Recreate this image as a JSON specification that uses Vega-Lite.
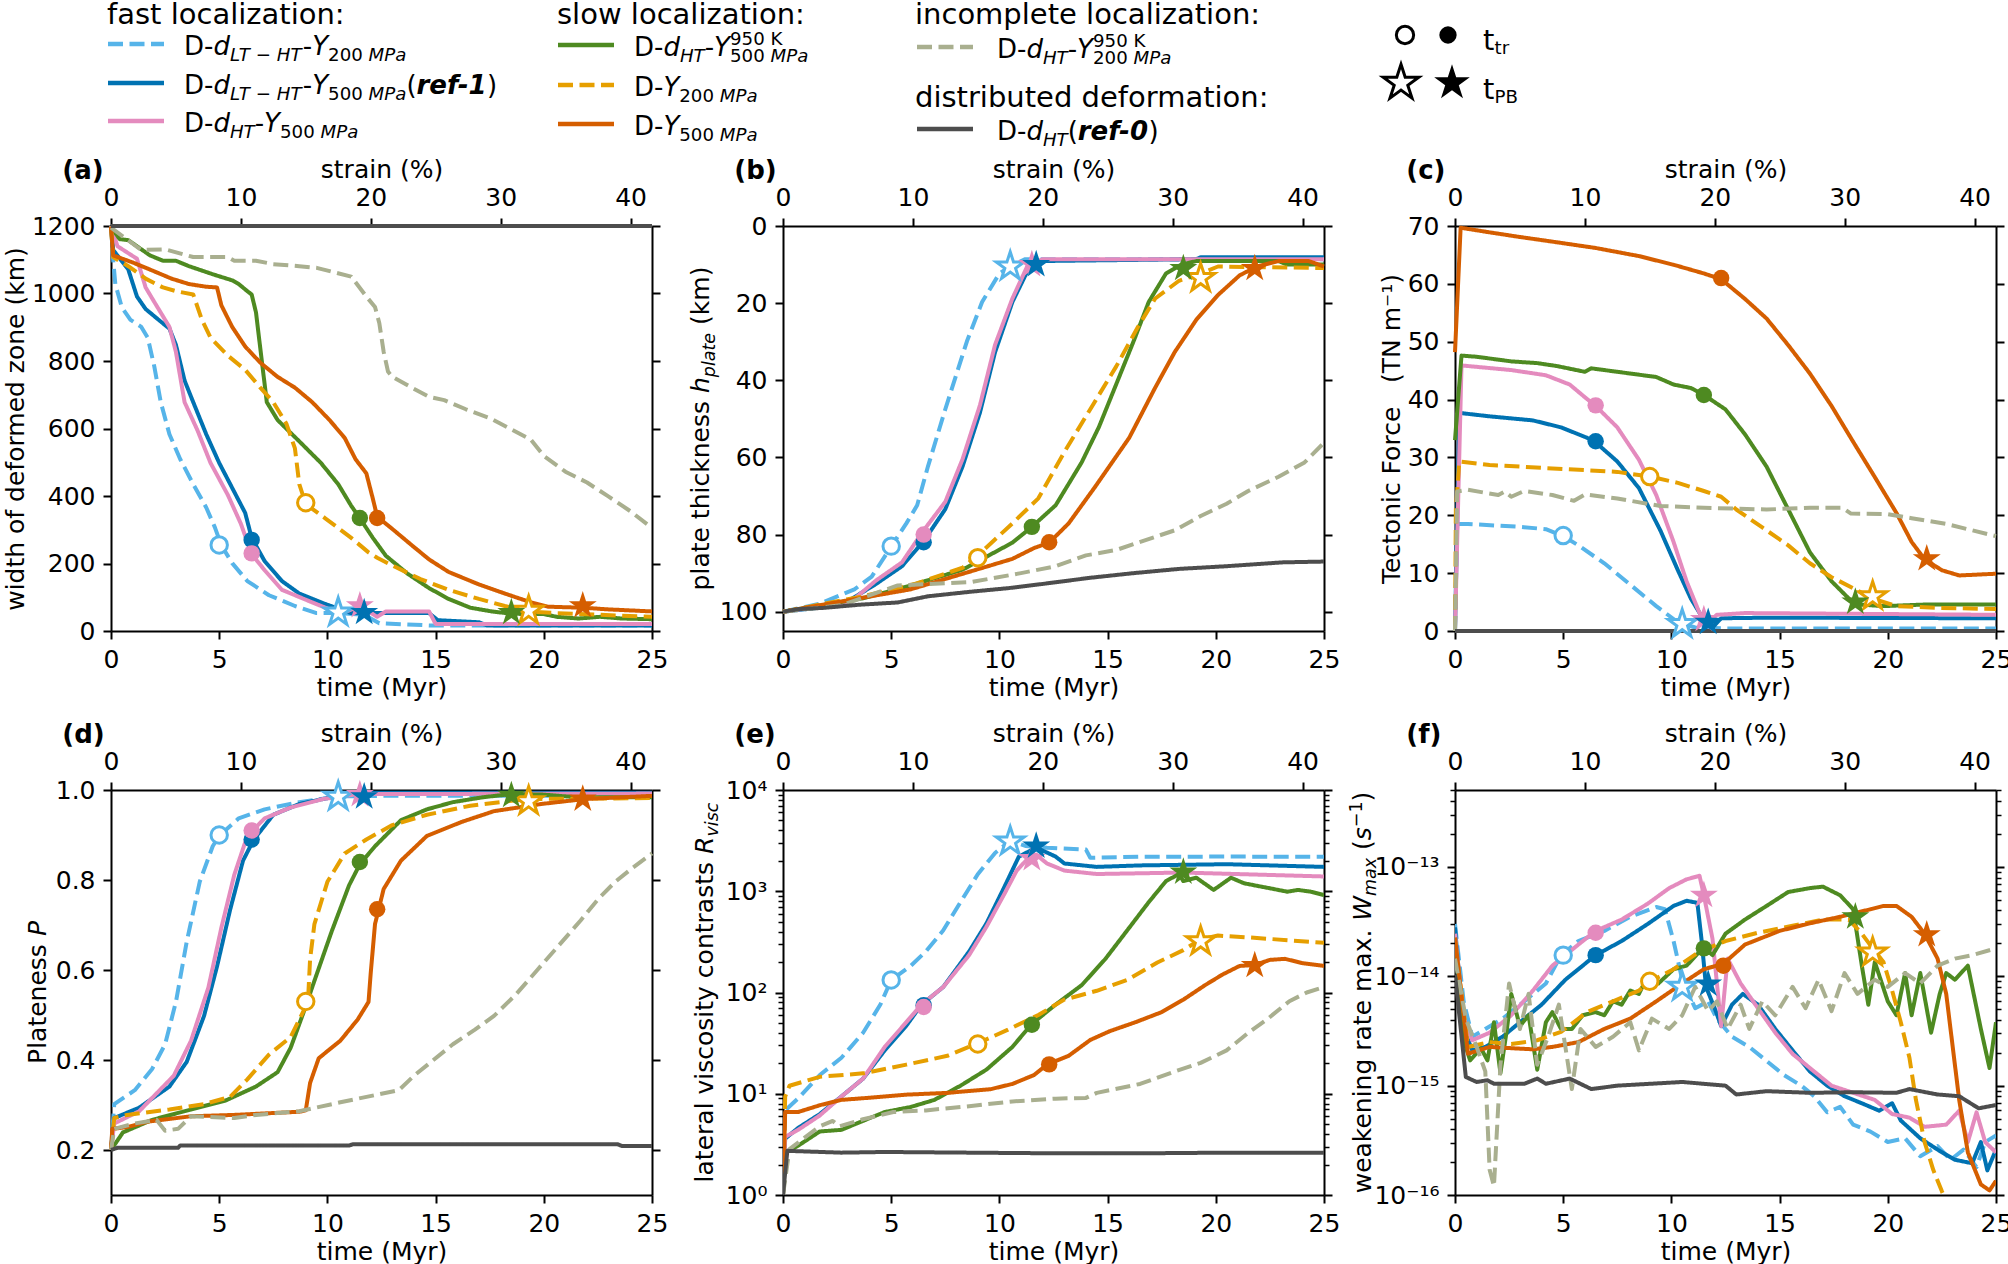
{
  "$schema": "https://vega.github.io/schema/vega-lite/v6.json",
  "padding": {"left": 3, "top": 1, "right": 0, "bottom": 0},
  "background": "white",
  "config": {
    "font": "DejaVu Sans",
    "view": {"stroke": null},
    "axis": {
      "domainColor": "black", "domainWidth": 2, "tickColor": "black", "tickWidth": 2, "tickSize": 8,
      "labelFont": "DejaVu Sans", "labelFontSize": 25, "labelColor": "black", "labelPadding": 8,
      "labelFlush": false, "labelOverlap": false, "grid": false,
      "titleFont": "DejaVu Sans", "titleFontSize": 25, "titleFontWeight": "normal", "titleColor": "black", "titlePadding": 3
    }
  },
  "datasets": {
    "lgl": [
      {"s": "lb", "x": 107, "x2": 163, "y": 42},
      {"s": "db", "x": 107, "x2": 163, "y": 81},
      {"s": "pk", "x": 107, "x2": 163, "y": 119},
      {"s": "gr", "x": 557, "x2": 613, "y": 43},
      {"s": "or", "x": 557, "x2": 613, "y": 83},
      {"s": "rd", "x": 557, "x2": 613, "y": 122},
      {"s": "gy", "x": 916, "x2": 972, "y": 45},
      {"s": "dk", "x": 916, "x2": 972, "y": 127}
    ],
    "lgt": [
      {"k": "h", "t": "fast localization:", "x": 106, "y": 22},
      {"k": "h", "t": "slow localization:", "x": 556, "y": 22},
      {"k": "h", "t": "incomplete localization:", "x": 914, "y": 22},
      {"k": "h", "t": "distributed deformation:", "x": 914, "y": 105},
      {"k": "n", "t": "D-", "x": 183, "y": 52.5},
      {"k": "i", "t": "d", "x": 212.4, "y": 52.5},
      {"k": "si", "t": "LT − HT", "x": 228.9, "y": 58.5},
      {"k": "n", "t": "-", "x": 301.8, "y": 52.5},
      {"k": "i", "t": "Y", "x": 311.2, "y": 52.5},
      {"k": "s", "t": "200", "x": 327.1, "y": 58.5},
      {"k": "si", "t": "MPa", "x": 367.6, "y": 58.5},
      {"k": "n", "t": "D-", "x": 183, "y": 91.5},
      {"k": "i", "t": "d", "x": 212.4, "y": 91.5},
      {"k": "si", "t": "LT − HT", "x": 228.9, "y": 97.5},
      {"k": "n", "t": "-", "x": 301.8, "y": 91.5},
      {"k": "i", "t": "Y", "x": 311.2, "y": 91.5},
      {"k": "s", "t": "500", "x": 327.1, "y": 97.5},
      {"k": "si", "t": "MPa", "x": 367.6, "y": 97.5},
      {"k": "n", "t": "(", "x": 405.4, "y": 91.5},
      {"k": "bi", "t": "ref-1", "x": 415.5, "y": 91.5},
      {"k": "n", "t": ")", "x": 486.1, "y": 91.5},
      {"k": "n", "t": "D-", "x": 183, "y": 129.5},
      {"k": "i", "t": "d", "x": 212.4, "y": 129.5},
      {"k": "si", "t": "HT", "x": 228.9, "y": 135.5},
      {"k": "n", "t": "-", "x": 253.7, "y": 129.5},
      {"k": "i", "t": "Y", "x": 263.1, "y": 129.5},
      {"k": "s", "t": "500", "x": 279, "y": 135.5},
      {"k": "si", "t": "MPa", "x": 319.5, "y": 135.5},
      {"k": "n", "t": "D-", "x": 633, "y": 53.5},
      {"k": "i", "t": "d", "x": 662.4, "y": 53.5},
      {"k": "si", "t": "HT", "x": 678.9, "y": 60},
      {"k": "n", "t": "-", "x": 703.7, "y": 53.5},
      {"k": "i", "t": "Y", "x": 713.1, "y": 53.5},
      {"k": "s", "t": "950 K", "x": 729, "y": 42.5},
      {"k": "s", "t": "500", "x": 729, "y": 60},
      {"k": "si", "t": "MPa", "x": 769.5, "y": 60},
      {"k": "n", "t": "D-", "x": 633, "y": 93.5},
      {"k": "i", "t": "Y", "x": 662.4, "y": 93.5},
      {"k": "s", "t": "200", "x": 678.3, "y": 99.5},
      {"k": "si", "t": "MPa", "x": 718.8, "y": 99.5},
      {"k": "n", "t": "D-", "x": 633, "y": 132.5},
      {"k": "i", "t": "Y", "x": 662.4, "y": 132.5},
      {"k": "s", "t": "500", "x": 678.3, "y": 138.5},
      {"k": "si", "t": "MPa", "x": 718.8, "y": 138.5},
      {"k": "n", "t": "D-", "x": 996, "y": 55.5},
      {"k": "i", "t": "d", "x": 1025.4, "y": 55.5},
      {"k": "si", "t": "HT", "x": 1041.9, "y": 61.5},
      {"k": "n", "t": "-", "x": 1066.7, "y": 55.5},
      {"k": "i", "t": "Y", "x": 1076.1, "y": 55.5},
      {"k": "s", "t": "950 K", "x": 1092, "y": 44.5},
      {"k": "s", "t": "200", "x": 1092, "y": 62},
      {"k": "si", "t": "MPa", "x": 1132.5, "y": 62},
      {"k": "n", "t": "D-", "x": 996, "y": 137.5},
      {"k": "i", "t": "d", "x": 1025.4, "y": 137.5},
      {"k": "si", "t": "HT", "x": 1041.9, "y": 143.5},
      {"k": "n", "t": "(", "x": 1066.7, "y": 137.5},
      {"k": "bi", "t": "ref-0", "x": 1076.8, "y": 137.5},
      {"k": "n", "t": ")", "x": 1147.4, "y": 137.5},
      {"k": "h", "t": "t", "x": 1482, "y": 48},
      {"k": "s", "t": "tr", "x": 1493.5, "y": 52},
      {"k": "h", "t": "t", "x": 1482, "y": 97},
      {"k": "s", "t": "PB", "x": 1493.5, "y": 101}
    ],
    "lgm": [
      {"k": "tr", "f": "o", "x": 1404, "y": 33},
      {"k": "tr", "f": "f", "x": 1447, "y": 33},
      {"k": "pb", "f": "o", "x": 1400, "y": 81},
      {"k": "pb", "f": "f", "x": 1451, "y": 81}
    ],
    "ft": [
      {"p": "a", "k": "L", "t": "(a)", "x": -0.09, "y": 1.135},
      {"p": "b", "k": "L", "t": "(b)", "x": -0.09, "y": 1.135},
      {"p": "c", "k": "L", "t": "(c)", "x": -0.09, "y": 1.135},
      {"p": "d", "k": "L", "t": "(d)", "x": -0.09, "y": 1.135},
      {"p": "e", "k": "L", "t": "(e)", "x": -0.09, "y": 1.135},
      {"p": "f", "k": "L", "t": "(f)", "x": -0.09, "y": 1.135},
      {"p": "b", "k": "n", "t": "plate thickness", "x": -0.1359, "y": 0.1002},
      {"p": "b", "k": "i", "t": "h", "x": -0.1359, "y": 0.5874},
      {"p": "b", "k": "si", "t": "plate", "x": -0.1266, "y": 0.6267},
      {"p": "b", "k": "n", "t": "(km)", "x": -0.1359, "y": 0.7558},
      {"p": "d", "k": "n", "t": "Plateness", "x": -0.12, "y": 0.3237},
      {"p": "d", "k": "i", "t": "P", "x": -0.12, "y": 0.6393},
      {"p": "e", "k": "n", "t": "lateral viscosity contrasts", "x": -0.129, "y": 0.0311},
      {"p": "e", "k": "i", "t": "R", "x": -0.129, "y": 0.842},
      {"p": "e", "k": "si", "t": "visc", "x": -0.12, "y": 0.885},
      {"p": "f", "k": "n", "t": "weakening rate max.", "x": -0.1553, "y": 0.0042},
      {"p": "f", "k": "i", "t": "W", "x": -0.1553, "y": 0.6773},
      {"p": "f", "k": "si", "t": "max", "x": -0.146, "y": 0.7383},
      {"p": "f", "k": "n", "t": "(", "x": -0.1553, "y": 0.852},
      {"p": "f", "k": "i", "t": "s", "x": -0.1553, "y": 0.876},
      {"p": "f", "k": "sn", "t": "−1", "x": -0.172, "y": 0.9081},
      {"p": "f", "k": "n", "t": ")", "x": -0.1553, "y": 0.9719}
    ],
    "mk": [
      {"p": "a", "s": "lb", "k": "tr", "t": 5.0, "v": 255}, {"p": "a", "s": "db", "k": "tr", "t": 6.5, "v": 270}, {"p": "a", "s": "pk", "k": "tr", "t": 6.5, "v": 230},
      {"p": "a", "s": "or", "k": "tr", "t": 9.0, "v": 380}, {"p": "a", "s": "gr", "k": "tr", "t": 11.5, "v": 335}, {"p": "a", "s": "rd", "k": "tr", "t": 12.3, "v": 335},
      {"p": "a", "s": "lb", "k": "pb", "t": 10.5, "v": 55}, {"p": "a", "s": "pk", "k": "pb", "t": 11.5, "v": 75}, {"p": "a", "s": "db", "k": "pb", "t": 11.7, "v": 55},
      {"p": "a", "s": "gr", "k": "pb", "t": 18.5, "v": 55}, {"p": "a", "s": "or", "k": "pb", "t": 19.3, "v": 60}, {"p": "a", "s": "rd", "k": "pb", "t": 21.8, "v": 75},
      {"p": "b", "s": "lb", "k": "tr", "t": 5.0, "v": 83}, {"p": "b", "s": "db", "k": "tr", "t": 6.5, "v": 82}, {"p": "b", "s": "pk", "k": "tr", "t": 6.5, "v": 80},
      {"p": "b", "s": "or", "k": "tr", "t": 9.0, "v": 86}, {"p": "b", "s": "gr", "k": "tr", "t": 11.5, "v": 78}, {"p": "b", "s": "rd", "k": "tr", "t": 12.3, "v": 82},
      {"p": "b", "s": "lb", "k": "pb", "t": 10.5, "v": 10.5}, {"p": "b", "s": "pk", "k": "pb", "t": 11.5, "v": 10}, {"p": "b", "s": "db", "k": "pb", "t": 11.7, "v": 10},
      {"p": "b", "s": "gr", "k": "pb", "t": 18.5, "v": 11}, {"p": "b", "s": "or", "k": "pb", "t": 19.3, "v": 13.5}, {"p": "b", "s": "rd", "k": "pb", "t": 21.8, "v": 11},
      {"p": "c", "s": "lb", "k": "tr", "t": 5.0, "v": 16.5}, {"p": "c", "s": "db", "k": "tr", "t": 6.5, "v": 32.8}, {"p": "c", "s": "pk", "k": "tr", "t": 6.5, "v": 39},
      {"p": "c", "s": "or", "k": "tr", "t": 9.0, "v": 26.7}, {"p": "c", "s": "gr", "k": "tr", "t": 11.5, "v": 40.8}, {"p": "c", "s": "rd", "k": "tr", "t": 12.3, "v": 61},
      {"p": "c", "s": "lb", "k": "pb", "t": 10.5, "v": 1.2}, {"p": "c", "s": "pk", "k": "pb", "t": 11.5, "v": 2}, {"p": "c", "s": "db", "k": "pb", "t": 11.7, "v": 1.5},
      {"p": "c", "s": "gr", "k": "pb", "t": 18.5, "v": 5}, {"p": "c", "s": "or", "k": "pb", "t": 19.3, "v": 6}, {"p": "c", "s": "rd", "k": "pb", "t": 21.8, "v": 12.5},
      {"p": "d", "s": "lb", "k": "tr", "t": 5.0, "v": 0.90}, {"p": "d", "s": "db", "k": "tr", "t": 6.5, "v": 0.89}, {"p": "d", "s": "pk", "k": "tr", "t": 6.5, "v": 0.91},
      {"p": "d", "s": "or", "k": "tr", "t": 9.0, "v": 0.53}, {"p": "d", "s": "gr", "k": "tr", "t": 11.5, "v": 0.84}, {"p": "d", "s": "rd", "k": "tr", "t": 12.3, "v": 0.735},
      {"p": "d", "s": "lb", "k": "pb", "t": 10.5, "v": 0.985}, {"p": "d", "s": "pk", "k": "pb", "t": 11.5, "v": 0.99}, {"p": "d", "s": "db", "k": "pb", "t": 11.7, "v": 0.985},
      {"p": "d", "s": "gr", "k": "pb", "t": 18.5, "v": 0.988}, {"p": "d", "s": "or", "k": "pb", "t": 19.3, "v": 0.975}, {"p": "d", "s": "rd", "k": "pb", "t": 21.8, "v": 0.98},
      {"p": "e", "s": "lb", "k": "tr", "t": 5.0, "v": 133}, {"p": "e", "s": "db", "k": "tr", "t": 6.5, "v": 75}, {"p": "e", "s": "pk", "k": "tr", "t": 6.5, "v": 72},
      {"p": "e", "s": "or", "k": "tr", "t": 9.0, "v": 31}, {"p": "e", "s": "gr", "k": "tr", "t": 11.5, "v": 48}, {"p": "e", "s": "rd", "k": "tr", "t": 12.3, "v": 19.5},
      {"p": "e", "s": "lb", "k": "pb", "t": 10.5, "v": 3100}, {"p": "e", "s": "pk", "k": "pb", "t": 11.5, "v": 2100}, {"p": "e", "s": "db", "k": "pb", "t": 11.7, "v": 2800},
      {"p": "e", "s": "gr", "k": "pb", "t": 18.5, "v": 1550}, {"p": "e", "s": "or", "k": "pb", "t": 19.3, "v": 320}, {"p": "e", "s": "rd", "k": "pb", "t": 21.8, "v": 185},
      {"p": "f", "s": "lb", "k": "tr", "t": 5.0, "v": 1.56e-14}, {"p": "f", "s": "db", "k": "tr", "t": 6.5, "v": 1.56e-14}, {"p": "f", "s": "pk", "k": "tr", "t": 6.5, "v": 2.5e-14},
      {"p": "f", "s": "or", "k": "tr", "t": 9.0, "v": 9e-15}, {"p": "f", "s": "gr", "k": "tr", "t": 11.5, "v": 1.8e-14}, {"p": "f", "s": "rd", "k": "tr", "t": 12.4, "v": 1.25e-14},
      {"p": "f", "s": "lb", "k": "pb", "t": 10.5, "v": 8e-15}, {"p": "f", "s": "pk", "k": "pb", "t": 11.5, "v": 5.5e-14}, {"p": "f", "s": "db", "k": "pb", "t": 11.7, "v": 8.5e-15},
      {"p": "f", "s": "gr", "k": "pb", "t": 18.5, "v": 3.5e-14}, {"p": "f", "s": "or", "k": "pb", "t": 19.3, "v": 1.65e-14}, {"p": "f", "s": "rd", "k": "pb", "t": 21.8, "v": 2.4e-14}
    ],
    "A": [
      {"s":"lb","t":0,"v":1200},{"s":"lb","t":0.1,"v":1100},{"s":"lb","t":0.2,"v":1028},{"s":"lb","t":0.5,"v":959},{"s":"lb","t":0.9,"v":922},{"s":"lb","t":1.4,"v":901},{"s":"lb","t":1.7,"v":869},{"s":"lb","t":2.0,"v":784},{"s":"lb","t":2.3,"v":678},{"s":"lb","t":2.7,"v":583},{"s":"lb","t":3.2,"v":509},{"s":"lb","t":3.8,"v":435},{"s":"lb","t":4.4,"v":366},{"s":"lb","t":4.8,"v":307},{"s":"lb","t":5.1,"v":254},{"s":"lb","t":5.6,"v":201},{"s":"lb","t":6.3,"v":148},{"s":"lb","t":7.3,"v":106},{"s":"lb","t":8.5,"v":74},{"s":"lb","t":9.5,"v":53},{"s":"lb","t":10.5,"v":53},{"s":"lb","t":11.7,"v":48},{"s":"lb","t":12.4,"v":23},{"s":"lb","t":14.9,"v":16},{"s":"lb","t":25,"v":16},
      {"s":"db","t":0,"v":1200},{"s":"db","t":0.1,"v":1129},{"s":"db","t":0.8,"v":1071},{"s":"db","t":1.2,"v":991},{"s":"db","t":1.6,"v":954},{"s":"db","t":2.2,"v":922},{"s":"db","t":2.7,"v":896},{"s":"db","t":3.0,"v":848},{"s":"db","t":3.4,"v":742},{"s":"db","t":3.8,"v":678},{"s":"db","t":4.4,"v":583},{"s":"db","t":5.0,"v":498},{"s":"db","t":5.6,"v":424},{"s":"db","t":6.2,"v":350},{"s":"db","t":6.5,"v":276},{"s":"db","t":7.1,"v":207},{"s":"db","t":7.9,"v":148},{"s":"db","t":8.7,"v":111},{"s":"db","t":9.9,"v":80},{"s":"db","t":11.1,"v":53},{"s":"db","t":12.1,"v":53},{"s":"db","t":14.7,"v":53},{"s":"db","t":15.1,"v":32},{"s":"db","t":17.0,"v":26},{"s":"db","t":17.4,"v":16},{"s":"db","t":25,"v":16},
      {"s":"pk","t":0,"v":1200},{"s":"pk","t":0.3,"v":1140},{"s":"pk","t":1.2,"v":1103},{"s":"pk","t":1.6,"v":1018},{"s":"pk","t":2.0,"v":975},{"s":"pk","t":2.7,"v":901},{"s":"pk","t":3.0,"v":827},{"s":"pk","t":3.4,"v":678},{"s":"pk","t":4.0,"v":594},{"s":"pk","t":4.6,"v":498},{"s":"pk","t":5.4,"v":403},{"s":"pk","t":6.0,"v":318},{"s":"pk","t":6.5,"v":228},{"s":"pk","t":7.1,"v":180},{"s":"pk","t":7.9,"v":122},{"s":"pk","t":9.1,"v":90},{"s":"pk","t":10.1,"v":64},{"s":"pk","t":10.7,"v":53},{"s":"pk","t":11.3,"v":69},{"s":"pk","t":11.9,"v":58},{"s":"pk","t":12.3,"v":42},{"s":"pk","t":12.7,"v":58},{"s":"pk","t":14.7,"v":58},{"s":"pk","t":15.0,"v":21},{"s":"pk","t":25,"v":21},
      {"s":"gr","t":0,"v":1198},{"s":"gr","t":0.4,"v":1161},{"s":"gr","t":0.8,"v":1158},{"s":"gr","t":1.8,"v":1113},{"s":"gr","t":2.4,"v":1097},{"s":"gr","t":3.0,"v":1097},{"s":"gr","t":3.6,"v":1081},{"s":"gr","t":4.8,"v":1055},{"s":"gr","t":5.6,"v":1039},{"s":"gr","t":5.9,"v":1028},{"s":"gr","t":6.3,"v":1007},{"s":"gr","t":6.5,"v":997},{"s":"gr","t":6.7,"v":944},{"s":"gr","t":6.9,"v":837},{"s":"gr","t":7.2,"v":678},{"s":"gr","t":7.7,"v":625},{"s":"gr","t":8.7,"v":562},{"s":"gr","t":9.7,"v":498},{"s":"gr","t":10.5,"v":435},{"s":"gr","t":11.1,"v":371},{"s":"gr","t":11.5,"v":334},{"s":"gr","t":12.1,"v":276},{"s":"gr","t":12.7,"v":223},{"s":"gr","t":13.7,"v":170},{"s":"gr","t":14.7,"v":127},{"s":"gr","t":15.6,"v":95},{"s":"gr","t":16.6,"v":69},{"s":"gr","t":17.6,"v":58},{"s":"gr","t":18.5,"v":51},{"s":"gr","t":20.0,"v":50},{"s":"gr","t":20.6,"v":42},{"s":"gr","t":21.6,"v":37},{"s":"gr","t":22.6,"v":42},{"s":"gr","t":23.6,"v":37},{"s":"gr","t":25,"v":35},
      {"s":"or","t":0,"v":1198},{"s":"or","t":0.1,"v":1108},{"s":"or","t":0.8,"v":1081},{"s":"or","t":1.6,"v":1044},{"s":"or","t":2.4,"v":1018},{"s":"or","t":3.0,"v":1007},{"s":"or","t":3.8,"v":997},{"s":"or","t":4.2,"v":922},{"s":"or","t":4.6,"v":869},{"s":"or","t":5.4,"v":816},{"s":"or","t":6.2,"v":774},{"s":"or","t":6.9,"v":721},{"s":"or","t":7.5,"v":678},{"s":"or","t":8.1,"v":615},{"s":"or","t":8.5,"v":541},{"s":"or","t":8.7,"v":435},{"s":"or","t":9.0,"v":376},{"s":"or","t":9.9,"v":334},{"s":"or","t":11.1,"v":276},{"s":"or","t":11.9,"v":233},{"s":"or","t":12.3,"v":217},{"s":"or","t":13.1,"v":191},{"s":"or","t":14.3,"v":154},{"s":"or","t":15.6,"v":122},{"s":"or","t":17.0,"v":95},{"s":"or","t":18.2,"v":74},{"s":"or","t":19.3,"v":58},{"s":"or","t":20.6,"v":53},{"s":"or","t":25,"v":42},
      {"s":"rd","t":0,"v":1198},{"s":"rd","t":0.1,"v":1113},{"s":"rd","t":1.0,"v":1092},{"s":"rd","t":1.8,"v":1071},{"s":"rd","t":2.8,"v":1044},{"s":"rd","t":3.6,"v":1028},{"s":"rd","t":4.4,"v":1020},{"s":"rd","t":4.9,"v":1018},{"s":"rd","t":5.1,"v":965},{"s":"rd","t":5.6,"v":901},{"s":"rd","t":6.2,"v":843},{"s":"rd","t":6.9,"v":795},{"s":"rd","t":7.7,"v":753},{"s":"rd","t":8.5,"v":721},{"s":"rd","t":9.3,"v":678},{"s":"rd","t":10.1,"v":625},{"s":"rd","t":10.8,"v":572},{"s":"rd","t":11.3,"v":509},{"s":"rd","t":11.8,"v":467},{"s":"rd","t":12.1,"v":392},{"s":"rd","t":12.3,"v":339},{"s":"rd","t":13.1,"v":297},{"s":"rd","t":13.9,"v":254},{"s":"rd","t":14.7,"v":212},{"s":"rd","t":15.6,"v":175},{"s":"rd","t":17.0,"v":138},{"s":"rd","t":18.2,"v":111},{"s":"rd","t":19.4,"v":85},{"s":"rd","t":20.2,"v":72},{"s":"rd","t":21.8,"v":69},{"s":"rd","t":23.0,"v":64},{"s":"rd","t":25,"v":58},
      {"s":"gy","t":0,"v":1195},{"s":"gy","t":1.4,"v":1129},{"s":"gy","t":2.5,"v":1131},{"s":"gy","t":3.8,"v":1108},{"s":"gy","t":5.4,"v":1108},{"s":"gy","t":5.7,"v":1097},{"s":"gy","t":6.7,"v":1097},{"s":"gy","t":7.5,"v":1087},{"s":"gy","t":8.7,"v":1081},{"s":"gy","t":9.5,"v":1076},{"s":"gy","t":11.1,"v":1050},{"s":"gy","t":11.8,"v":991},{"s":"gy","t":12.2,"v":960},{"s":"gy","t":12.4,"v":912},{"s":"gy","t":12.6,"v":827},{"s":"gy","t":12.8,"v":769},{"s":"gy","t":13.0,"v":753},{"s":"gy","t":13.9,"v":721},{"s":"gy","t":14.7,"v":694},{"s":"gy","t":15.4,"v":684},{"s":"gy","t":16.4,"v":657},{"s":"gy","t":17.5,"v":631},{"s":"gy","t":18.6,"v":594},{"s":"gy","t":19.4,"v":567},{"s":"gy","t":20.0,"v":519},{"s":"gy","t":21.0,"v":472},{"s":"gy","t":22.0,"v":440},{"s":"gy","t":23.0,"v":398},{"s":"gy","t":24.0,"v":355},{"s":"gy","t":25,"v":305},
      {"s":"dk","t":0,"v":1200},{"s":"dk","t":25,"v":1200}
    ],
    "B": [
      {"s":"lb","t":0,"v":100},{"s":"lb","t":1.7,"v":97.9},{"s":"lb","t":3.3,"v":94.2},{"s":"lb","t":4.1,"v":90.9},{"s":"lb","t":5.0,"v":83.1},{"s":"lb","t":5.7,"v":77.1},{"s":"lb","t":6.2,"v":72.4},{"s":"lb","t":6.7,"v":62.3},{"s":"lb","t":7.5,"v":47.5},{"s":"lb","t":8.5,"v":29.9},{"s":"lb","t":9.2,"v":19.7},{"s":"lb","t":10.0,"v":12.3},{"s":"lb","t":10.5,"v":10.5},{"s":"lb","t":11.2,"v":8.6},{"s":"lb","t":25,"v":8.6},
      {"s":"db","t":0,"v":100},{"s":"db","t":2.7,"v":98.3},{"s":"db","t":4.3,"v":92.8},{"s":"db","t":5.5,"v":88.2},{"s":"db","t":6.5,"v":81.7},{"s":"db","t":7.5,"v":73.4},{"s":"db","t":8.3,"v":62.3},{"s":"db","t":9.1,"v":48.4},{"s":"db","t":9.8,"v":32.7},{"s":"db","t":10.6,"v":19.7},{"s":"db","t":11.4,"v":10.5},{"s":"db","t":11.7,"v":9.1},{"s":"db","t":19.1,"v":8.6},{"s":"db","t":19.3,"v":8.1},{"s":"db","t":25,"v":8.1},
      {"s":"pk","t":0,"v":100},{"s":"pk","t":3.1,"v":97.6},{"s":"pk","t":4.3,"v":91.9},{"s":"pk","t":5.5,"v":87.2},{"s":"pk","t":6.5,"v":78.9},{"s":"pk","t":7.5,"v":71.5},{"s":"pk","t":8.3,"v":60.4},{"s":"pk","t":9.1,"v":46.5},{"s":"pk","t":9.8,"v":30.8},{"s":"pk","t":10.6,"v":18.8},{"s":"pk","t":11.3,"v":10.3},{"s":"pk","t":12.0,"v":8.6},{"s":"pk","t":25,"v":8.6},
      {"s":"gr","t":0,"v":100},{"s":"gr","t":3.7,"v":96.5},{"s":"gr","t":5.9,"v":93.2},{"s":"gr","t":8.3,"v":89.1},{"s":"gr","t":10.6,"v":82.1},{"s":"gr","t":11.5,"v":78},{"s":"gr","t":12.6,"v":72.4},{"s":"gr","t":13.8,"v":61.3},{"s":"gr","t":14.6,"v":52.1},{"s":"gr","t":15.4,"v":41},{"s":"gr","t":16.2,"v":29.9},{"s":"gr","t":16.9,"v":19.7},{"s":"gr","t":17.7,"v":12.3},{"s":"gr","t":18.4,"v":10},{"s":"gr","t":19.1,"v":9.1},{"s":"gr","t":22.9,"v":9.1},{"s":"gr","t":23.3,"v":10},{"s":"gr","t":25,"v":10},
      {"s":"or","t":0,"v":100},{"s":"or","t":3.7,"v":96},{"s":"or","t":6.1,"v":92.8},{"s":"or","t":8.3,"v":88.6},{"s":"or","t":9.0,"v":85.4},{"s":"or","t":10.6,"v":77.1},{"s":"or","t":11.8,"v":70.6},{"s":"or","t":13.0,"v":58.6},{"s":"or","t":14.2,"v":47.5},{"s":"or","t":15.4,"v":36.4},{"s":"or","t":16.4,"v":26.2},{"s":"or","t":17.2,"v":18.8},{"s":"or","t":18.3,"v":14.2},{"s":"or","t":19.3,"v":12.3},{"s":"or","t":20.1,"v":10.5},{"s":"or","t":25,"v":10.9},
      {"s":"rd","t":0,"v":100},{"s":"rd","t":5.9,"v":94.2},{"s":"rd","t":8.7,"v":89.5},{"s":"rd","t":10.6,"v":86.3},{"s":"rd","t":11.6,"v":83.5},{"s":"rd","t":12.3,"v":82.1},{"s":"rd","t":13.2,"v":77.1},{"s":"rd","t":14.4,"v":67.8},{"s":"rd","t":16.0,"v":54.9},{"s":"rd","t":17.2,"v":41.9},{"s":"rd","t":18.1,"v":32.7},{"s":"rd","t":19.1,"v":24.3},{"s":"rd","t":20.1,"v":17.9},{"s":"rd","t":21.1,"v":12.8},{"s":"rd","t":21.9,"v":10.5},{"s":"rd","t":22.9,"v":9.1},{"s":"rd","t":24.3,"v":9.1},{"s":"rd","t":25,"v":10.5},
      {"s":"gy","t":0,"v":100},{"s":"gy","t":2.7,"v":98.3},{"s":"gy","t":5.3,"v":93.2},{"s":"gy","t":8.7,"v":92.3},{"s":"gy","t":11.0,"v":90},{"s":"gy","t":12.6,"v":88.2},{"s":"gy","t":14.0,"v":85.4},{"s":"gy","t":15.4,"v":84},{"s":"gy","t":16.4,"v":82.1},{"s":"gy","t":18.1,"v":78.9},{"s":"gy","t":19.3,"v":75.2},{"s":"gy","t":20.5,"v":72},{"s":"gy","t":21.5,"v":68.7},{"s":"gy","t":22.9,"v":65},{"s":"gy","t":24.1,"v":61.3},{"s":"gy","t":25,"v":56.2},
      {"s":"dk","t":0,"v":100},{"s":"dk","t":0.75,"v":99.3},{"s":"dk","t":1.9,"v":99},{"s":"dk","t":3.5,"v":98.2},{"s":"dk","t":5.3,"v":97.6},{"s":"dk","t":6.7,"v":96},{"s":"dk","t":8.7,"v":94.8},{"s":"dk","t":10.4,"v":93.9},{"s":"dk","t":12.0,"v":92.8},{"s":"dk","t":14.2,"v":91.2},{"s":"dk","t":16.2,"v":90},{"s":"dk","t":18.3,"v":88.9},{"s":"dk","t":20.5,"v":88.2},{"s":"dk","t":23.1,"v":87.2},{"s":"dk","t":25,"v":87}
    ],
    "C": [
      {"s":"lb","t":0,"v":0},{"s":"lb","t":0.1,"v":18.5},{"s":"lb","t":0.6,"v":18.5},{"s":"lb","t":3.0,"v":18.0},{"s":"lb","t":4.2,"v":17.6},{"s":"lb","t":5.0,"v":16.4},{"s":"lb","t":5.7,"v":14.8},{"s":"lb","t":6.9,"v":11.7},{"s":"lb","t":8.1,"v":8.0},{"s":"lb","t":9.3,"v":4.3},{"s":"lb","t":10.3,"v":1.5},{"s":"lb","t":11.1,"v":0.6},{"s":"lb","t":12.5,"v":0.45},{"s":"lb","t":25,"v":0.45},
      {"s":"db","t":0,"v":0},{"s":"db","t":0.2,"v":37.7},{"s":"db","t":1.6,"v":37.1},{"s":"db","t":3.6,"v":36.4},{"s":"db","t":4.9,"v":35.2},{"s":"db","t":6.1,"v":33.4},{"s":"db","t":6.5,"v":32.6},{"s":"db","t":7.5,"v":29.3},{"s":"db","t":8.5,"v":24.7},{"s":"db","t":9.5,"v":17.3},{"s":"db","t":10.3,"v":10.5},{"s":"db","t":10.9,"v":5.6},{"s":"db","t":11.5,"v":1.9},{"s":"db","t":11.9,"v":0.6},{"s":"db","t":12.3,"v":2.2},{"s":"db","t":14.4,"v":2.3},{"s":"db","t":25,"v":2.2},
      {"s":"pk","t":0,"v":0},{"s":"pk","t":0.3,"v":45.9},{"s":"pk","t":2.6,"v":45.1},{"s":"pk","t":4.2,"v":44.2},{"s":"pk","t":5.3,"v":42.6},{"s":"pk","t":6.1,"v":40.1},{"s":"pk","t":6.5,"v":38.9},{"s":"pk","t":7.5,"v":35.2},{"s":"pk","t":8.5,"v":29.6},{"s":"pk","t":9.3,"v":23.5},{"s":"pk","t":10.1,"v":15.4},{"s":"pk","t":10.7,"v":8.6},{"s":"pk","t":11.3,"v":3.1},{"s":"pk","t":11.7,"v":1.5},{"s":"pk","t":12.1,"v":2.8},{"s":"pk","t":13.4,"v":3.1},{"s":"pk","t":25,"v":2.8},
      {"s":"gr","t":0,"v":33},{"s":"gr","t":0.3,"v":47.6},{"s":"gr","t":1.0,"v":47.4},{"s":"gr","t":2.6,"v":46.6},{"s":"gr","t":3.8,"v":46.3},{"s":"gr","t":4.7,"v":45.8},{"s":"gr","t":6.0,"v":44.8},{"s":"gr","t":6.3,"v":45.4},{"s":"gr","t":7.5,"v":44.8},{"s":"gr","t":9.3,"v":43.9},{"s":"gr","t":10.1,"v":42.6},{"s":"gr","t":10.9,"v":42},{"s":"gr","t":11.5,"v":40.8},{"s":"gr","t":12.5,"v":38.3},{"s":"gr","t":13.4,"v":34},{"s":"gr","t":14.4,"v":28.4},{"s":"gr","t":15.4,"v":21},{"s":"gr","t":16.4,"v":13.6},{"s":"gr","t":17.4,"v":8.6},{"s":"gr","t":18.2,"v":5.6},{"s":"gr","t":18.6,"v":4.6},{"s":"gr","t":19.8,"v":4.3},{"s":"gr","t":21.9,"v":4.6},{"s":"gr","t":25,"v":4.6},
      {"s":"or","t":0,"v":0},{"s":"or","t":0.04,"v":21},{"s":"or","t":0.2,"v":29.3},{"s":"or","t":1.6,"v":28.7},{"s":"or","t":4.5,"v":28.1},{"s":"or","t":7.5,"v":27.5},{"s":"or","t":9.0,"v":26.7},{"s":"or","t":10.3,"v":25.6},{"s":"or","t":11.5,"v":24.2},{"s":"or","t":12.3,"v":23.2},{"s":"or","t":13.0,"v":21},{"s":"or","t":14.2,"v":17.9},{"s":"or","t":15.4,"v":14.8},{"s":"or","t":16.4,"v":11.7},{"s":"or","t":17.4,"v":9.3},{"s":"or","t":18.4,"v":7.4},{"s":"or","t":19.3,"v":5.6},{"s":"or","t":20.4,"v":4.3},{"s":"or","t":22.3,"v":4.0},{"s":"or","t":25,"v":3.8},
      {"s":"rd","t":0,"v":48.2},{"s":"rd","t":0.26,"v":69.7},{"s":"rd","t":1.6,"v":68.9},{"s":"rd","t":3.0,"v":68.1},{"s":"rd","t":4.5,"v":67.3},{"s":"rd","t":6.5,"v":66.2},{"s":"rd","t":8.5,"v":64.8},{"s":"rd","t":10.1,"v":63.3},{"s":"rd","t":11.5,"v":61.8},{"s":"rd","t":12.3,"v":60.8},{"s":"rd","t":13.4,"v":57.4},{"s":"rd","t":14.4,"v":54},{"s":"rd","t":15.4,"v":49.4},{"s":"rd","t":16.4,"v":44.5},{"s":"rd","t":17.4,"v":38.9},{"s":"rd","t":18.4,"v":32.7},{"s":"rd","t":19.4,"v":26.6},{"s":"rd","t":20.4,"v":20.4},{"s":"rd","t":21.1,"v":15.4},{"s":"rd","t":21.7,"v":12.4},{"s":"rd","t":22.5,"v":10.5},{"s":"rd","t":23.3,"v":9.6},{"s":"rd","t":25,"v":9.9},
      {"s":"gy","t":0,"v":0},{"s":"gy","t":0.1,"v":24.1},{"s":"gy","t":0.6,"v":24.4},{"s":"gy","t":2.0,"v":23.5},{"s":"gy","t":2.3,"v":24.1},{"s":"gy","t":2.6,"v":23.2},{"s":"gy","t":3.2,"v":24.2},{"s":"gy","t":4.5,"v":23.5},{"s":"gy","t":5.5,"v":22.5},{"s":"gy","t":6.0,"v":23.6},{"s":"gy","t":7.5,"v":22.9},{"s":"gy","t":9.5,"v":21.6},{"s":"gy","t":11.5,"v":21.3},{"s":"gy","t":14.4,"v":21},{"s":"gy","t":16.4,"v":21.3},{"s":"gy","t":17.9,"v":21.3},{"s":"gy","t":18.3,"v":20.3},{"s":"gy","t":20.0,"v":20.2},{"s":"gy","t":21.1,"v":19.5},{"s":"gy","t":22.7,"v":18.5},{"s":"gy","t":25,"v":16.4},
      {"s":"dk","t":0,"v":0},{"s":"dk","t":25,"v":0}
    ],
    "D": [
      {"s":"lb","t":0,"v":0.2},{"s":"lb","t":0.15,"v":0.302},{"s":"lb","t":1.1,"v":0.333},{"s":"lb","t":1.9,"v":0.38},{"s":"lb","t":2.5,"v":0.435},{"s":"lb","t":3.0,"v":0.529},{"s":"lb","t":3.5,"v":0.663},{"s":"lb","t":4.1,"v":0.796},{"s":"lb","t":4.7,"v":0.875},{"s":"lb","t":5.0,"v":0.898},{"s":"lb","t":5.9,"v":0.937},{"s":"lb","t":7.1,"v":0.957},{"s":"lb","t":8.7,"v":0.973},{"s":"lb","t":10.6,"v":0.986},{"s":"lb","t":12.6,"v":0.987},{"s":"lb","t":25,"v":0.987},
      {"s":"db","t":0,"v":0.2},{"s":"db","t":0.15,"v":0.271},{"s":"db","t":1.3,"v":0.294},{"s":"db","t":2.7,"v":0.341},{"s":"db","t":3.5,"v":0.396},{"s":"db","t":4.3,"v":0.498},{"s":"db","t":4.9,"v":0.608},{"s":"db","t":5.5,"v":0.733},{"s":"db","t":6.1,"v":0.843},{"s":"db","t":6.6,"v":0.89},{"s":"db","t":7.5,"v":0.945},{"s":"db","t":8.7,"v":0.969},{"s":"db","t":10.6,"v":0.988},{"s":"db","t":11.6,"v":0.994},{"s":"db","t":25,"v":0.994},
      {"s":"pk","t":0,"v":0.2},{"s":"pk","t":0.15,"v":0.259},{"s":"pk","t":1.3,"v":0.286},{"s":"pk","t":2.9,"v":0.365},{"s":"pk","t":3.7,"v":0.443},{"s":"pk","t":4.5,"v":0.561},{"s":"pk","t":5.1,"v":0.694},{"s":"pk","t":5.7,"v":0.812},{"s":"pk","t":6.3,"v":0.898},{"s":"pk","t":7.1,"v":0.937},{"s":"pk","t":8.3,"v":0.961},{"s":"pk","t":9.8,"v":0.98},{"s":"pk","t":11.4,"v":0.991},{"s":"pk","t":25,"v":0.992},
      {"s":"gr","t":0,"v":0.2},{"s":"gr","t":0.55,"v":0.239},{"s":"gr","t":1.9,"v":0.267},{"s":"gr","t":3.7,"v":0.29},{"s":"gr","t":5.3,"v":0.31},{"s":"gr","t":6.7,"v":0.341},{"s":"gr","t":7.7,"v":0.373},{"s":"gr","t":8.3,"v":0.427},{"s":"gr","t":8.9,"v":0.506},{"s":"gr","t":9.4,"v":0.576},{"s":"gr","t":10.2,"v":0.686},{"s":"gr","t":11.0,"v":0.788},{"s":"gr","t":11.5,"v":0.835},{"s":"gr","t":12.2,"v":0.875},{"s":"gr","t":13.4,"v":0.933},{"s":"gr","t":14.6,"v":0.957},{"s":"gr","t":15.8,"v":0.973},{"s":"gr","t":17.2,"v":0.984},{"s":"gr","t":18.5,"v":0.991},{"s":"gr","t":19.9,"v":0.99},{"s":"gr","t":21.5,"v":0.984},{"s":"gr","t":25,"v":0.984},
      {"s":"or","t":0,"v":0.2},{"s":"or","t":0.15,"v":0.271},{"s":"or","t":0.75,"v":0.278},{"s":"or","t":2.7,"v":0.29},{"s":"or","t":4.3,"v":0.302},{"s":"or","t":5.5,"v":0.318},{"s":"or","t":6.3,"v":0.357},{"s":"or","t":7.3,"v":0.412},{"s":"or","t":8.3,"v":0.451},{"s":"or","t":9.1,"v":0.529},{"s":"or","t":9.2,"v":0.624},{"s":"or","t":9.4,"v":0.702},{"s":"or","t":10.0,"v":0.796},{"s":"or","t":10.8,"v":0.859},{"s":"or","t":11.8,"v":0.89},{"s":"or","t":13.0,"v":0.922},{"s":"or","t":14.6,"v":0.945},{"s":"or","t":16.6,"v":0.965},{"s":"or","t":18.5,"v":0.976},{"s":"or","t":19.3,"v":0.98},{"s":"or","t":25,"v":0.982},
      {"s":"rd","t":0,"v":0.2},{"s":"rd","t":0.06,"v":0.247},{"s":"rd","t":0.75,"v":0.251},{"s":"rd","t":1.7,"v":0.263},{"s":"rd","t":3.7,"v":0.275},{"s":"rd","t":5.7,"v":0.278},{"s":"rd","t":8.7,"v":0.285},{"s":"rd","t":9.0,"v":0.288},{"s":"rd","t":9.2,"v":0.349},{"s":"rd","t":9.6,"v":0.404},{"s":"rd","t":10.6,"v":0.443},{"s":"rd","t":11.4,"v":0.49},{"s":"rd","t":11.9,"v":0.529},{"s":"rd","t":12.0,"v":0.592},{"s":"rd","t":12.2,"v":0.702},{"s":"rd","t":12.6,"v":0.78},{"s":"rd","t":13.4,"v":0.843},{"s":"rd","t":14.6,"v":0.898},{"s":"rd","t":16.2,"v":0.929},{"s":"rd","t":17.7,"v":0.953},{"s":"rd","t":19.9,"v":0.969},{"s":"rd","t":21.9,"v":0.98},{"s":"rd","t":25,"v":0.987},
      {"s":"gy","t":0,"v":0.2},{"s":"gy","t":0.15,"v":0.247},{"s":"gy","t":1.1,"v":0.259},{"s":"gy","t":2.1,"v":0.267},{"s":"gy","t":2.5,"v":0.243},{"s":"gy","t":3.1,"v":0.247},{"s":"gy","t":3.7,"v":0.275},{"s":"gy","t":5.7,"v":0.271},{"s":"gy","t":6.7,"v":0.278},{"s":"gy","t":8.7,"v":0.286},{"s":"gy","t":10.6,"v":0.306},{"s":"gy","t":12.2,"v":0.322},{"s":"gy","t":13.3,"v":0.333},{"s":"gy","t":14.0,"v":0.365},{"s":"gy","t":14.8,"v":0.396},{"s":"gy","t":15.8,"v":0.435},{"s":"gy","t":16.8,"v":0.467},{"s":"gy","t":17.7,"v":0.498},{"s":"gy","t":18.7,"v":0.545},{"s":"gy","t":19.7,"v":0.6},{"s":"gy","t":20.7,"v":0.655},{"s":"gy","t":21.7,"v":0.71},{"s":"gy","t":22.5,"v":0.757},{"s":"gy","t":23.3,"v":0.796},{"s":"gy","t":24.1,"v":0.827},{"s":"gy","t":25,"v":0.859},
      {"s":"dk","t":0,"v":0.2},{"s":"dk","t":0.3,"v":0.205},{"s":"dk","t":3.1,"v":0.205},{"s":"dk","t":3.2,"v":0.21},{"s":"dk","t":11,"v":0.21},{"s":"dk","t":11.2,"v":0.213},{"s":"dk","t":23.4,"v":0.213},{"s":"dk","t":23.6,"v":0.209},{"s":"dk","t":25,"v":0.209}
    ],
    "E": [
      {"s":"lb","t":0,"v":1},{"s":"lb","t":0.1,"v":6.85},{"s":"lb","t":0.7,"v":9.0},{"s":"lb","t":1.7,"v":15.3},{"s":"lb","t":2.7,"v":22.7},{"s":"lb","t":3.7,"v":40},{"s":"lb","t":4.5,"v":76},{"s":"lb","t":5.0,"v":133},{"s":"lb","t":5.9,"v":183},{"s":"lb","t":6.6,"v":254},{"s":"lb","t":7.4,"v":409},{"s":"lb","t":8.2,"v":780},{"s":"lb","t":9.0,"v":1470},{"s":"lb","t":9.8,"v":2390},{"s":"lb","t":10.5,"v":3160},{"s":"lb","t":11.2,"v":2800},{"s":"lb","t":12.2,"v":2690},{"s":"lb","t":14.0,"v":2580},{"s":"lb","t":14.2,"v":2140},{"s":"lb","t":16.5,"v":2190},{"s":"lb","t":20.5,"v":2200},{"s":"lb","t":25,"v":2190},
      {"s":"db","t":0,"v":1},{"s":"db","t":0.1,"v":3.6},{"s":"db","t":0.7,"v":4.6},{"s":"db","t":1.7,"v":6.3},{"s":"db","t":2.7,"v":9.4},{"s":"db","t":3.7,"v":14.1},{"s":"db","t":4.7,"v":26.8},{"s":"db","t":5.7,"v":47},{"s":"db","t":6.4,"v":76},{"s":"db","t":7.4,"v":113},{"s":"db","t":8.6,"v":254},{"s":"db","t":9.4,"v":480},{"s":"db","t":10.2,"v":1070},{"s":"db","t":10.9,"v":2200},{"s":"db","t":11.4,"v":2500},{"s":"db","t":11.7,"v":2700},{"s":"db","t":12.6,"v":2200},{"s":"db","t":13.0,"v":1880},{"s":"db","t":14.5,"v":1740},{"s":"db","t":16.5,"v":1800},{"s":"db","t":20.5,"v":1850},{"s":"db","t":25,"v":1740},
      {"s":"pk","t":0,"v":1},{"s":"pk","t":0.1,"v":3.75},{"s":"pk","t":0.7,"v":4.4},{"s":"pk","t":1.7,"v":6.1},{"s":"pk","t":2.7,"v":9.4},{"s":"pk","t":3.7,"v":14.1},{"s":"pk","t":4.7,"v":29},{"s":"pk","t":5.7,"v":51},{"s":"pk","t":6.4,"v":76},{"s":"pk","t":7.4,"v":113},{"s":"pk","t":8.6,"v":234},{"s":"pk","t":9.4,"v":445},{"s":"pk","t":10.2,"v":915},{"s":"pk","t":10.8,"v":1600},{"s":"pk","t":11.4,"v":2200},{"s":"pk","t":11.7,"v":2300},{"s":"pk","t":12.2,"v":1880},{"s":"pk","t":13.0,"v":1600},{"s":"pk","t":14.5,"v":1480},{"s":"pk","t":18.5,"v":1530},{"s":"pk","t":25,"v":1400},
      {"s":"gr","t":0,"v":1},{"s":"gr","t":0.1,"v":2.62},{"s":"gr","t":0.7,"v":3.07},{"s":"gr","t":1.7,"v":4.24},{"s":"gr","t":2.7,"v":4.4},{"s":"gr","t":3.7,"v":5.4},{"s":"gr","t":4.7,"v":6.6},{"s":"gr","t":5.9,"v":7.4},{"s":"gr","t":7.0,"v":8.7},{"s":"gr","t":8.2,"v":12},{"s":"gr","t":9.4,"v":17.3},{"s":"gr","t":10.6,"v":29},{"s":"gr","t":11.5,"v":49},{"s":"gr","t":12.6,"v":76},{"s":"gr","t":13.8,"v":118},{"s":"gr","t":14.9,"v":215},{"s":"gr","t":15.9,"v":409},{"s":"gr","t":16.9,"v":780},{"s":"gr","t":17.7,"v":1260},{"s":"gr","t":18.3,"v":1480},{"s":"gr","t":18.5,"v":1260},{"s":"gr","t":19.1,"v":1360},{"s":"gr","t":19.9,"v":1030},{"s":"gr","t":20.7,"v":1360},{"s":"gr","t":21.3,"v":1200},{"s":"gr","t":22.1,"v":1110},{"s":"gr","t":22.5,"v":1070},{"s":"gr","t":23.3,"v":990},{"s":"gr","t":23.8,"v":1030},{"s":"gr","t":24.4,"v":990},{"s":"gr","t":25,"v":915},
      {"s":"or","t":0,"v":1},{"s":"or","t":0.1,"v":9.4},{"s":"or","t":0.3,"v":12},{"s":"or","t":1.7,"v":14.7},{"s":"or","t":3.7,"v":15.9},{"s":"or","t":5.7,"v":19.4},{"s":"or","t":7.6,"v":23.7},{"s":"or","t":9.0,"v":31.5},{"s":"or","t":10.4,"v":43},{"s":"or","t":11.8,"v":60},{"s":"or","t":13.0,"v":85},{"s":"or","t":14.5,"v":104},{"s":"or","t":15.9,"v":133},{"s":"or","t":17.3,"v":198},{"s":"or","t":18.5,"v":262},{"s":"or","t":19.3,"v":335},{"s":"or","t":20.1,"v":365},{"s":"or","t":21.5,"v":350},{"s":"or","t":25,"v":310},
      {"s":"rd","t":0,"v":1},{"s":"rd","t":0.1,"v":6.6},{"s":"rd","t":0.7,"v":6.6},{"s":"rd","t":1.7,"v":7.7},{"s":"rd","t":2.7,"v":8.7},{"s":"rd","t":3.9,"v":9.1},{"s":"rd","t":5.7,"v":9.8},{"s":"rd","t":7.6,"v":10.2},{"s":"rd","t":9.6,"v":11.1},{"s":"rd","t":10.6,"v":12.5},{"s":"rd","t":11.6,"v":15.3},{"s":"rd","t":12.2,"v":19.4},{"s":"rd","t":13.2,"v":23.7},{"s":"rd","t":14.2,"v":34},{"s":"rd","t":15.1,"v":41.5},{"s":"rd","t":16.3,"v":51},{"s":"rd","t":17.5,"v":64},{"s":"rd","t":18.5,"v":85},{"s":"rd","t":19.5,"v":118},{"s":"rd","t":20.3,"v":150},{"s":"rd","t":21.1,"v":183},{"s":"rd","t":21.8,"v":187},{"s":"rd","t":22.5,"v":210},{"s":"rd","t":23.2,"v":215},{"s":"rd","t":24.0,"v":195},{"s":"rd","t":25,"v":183},
      {"s":"gy","t":0,"v":1},{"s":"gy","t":0.3,"v":2.84},{"s":"gy","t":1.7,"v":4.77},{"s":"gy","t":2.3,"v":5.39},{"s":"gy","t":2.6,"v":4.77},{"s":"gy","t":3.7,"v":5.6},{"s":"gy","t":5.1,"v":6.6},{"s":"gy","t":6.6,"v":6.85},{"s":"gy","t":8.6,"v":7.53},{"s":"gy","t":10.6,"v":8.4},{"s":"gy","t":12.6,"v":8.95},{"s":"gy","t":14.0,"v":9.1},{"s":"gy","t":14.5,"v":10.2},{"s":"gy","t":16.5,"v":12.5},{"s":"gy","t":18.1,"v":16.6},{"s":"gy","t":19.3,"v":20.2},{"s":"gy","t":20.5,"v":26.8},{"s":"gy","t":21.5,"v":40},{"s":"gy","t":22.4,"v":55},{"s":"gy","t":23.4,"v":82},{"s":"gy","t":24.2,"v":100},{"s":"gy","t":25,"v":113},
      {"s":"dk","t":0,"v":1},{"s":"dk","t":0.2,"v":2.73},{"s":"dk","t":2.7,"v":2.62},{"s":"dk","t":4.7,"v":2.66},{"s":"dk","t":8.6,"v":2.62},{"s":"dk","t":12.6,"v":2.58},{"s":"dk","t":16.5,"v":2.58},{"s":"dk","t":20.5,"v":2.62},{"s":"dk","t":25,"v":2.62}
    ],
    "F": [
      {"s":"lb","t":0,"v":3.0e-14},{"s":"lb","t":0.4,"v":5.9e-15},{"s":"lb","t":0.8,"v":2.8e-15},{"s":"lb","t":1.4,"v":3.3e-15},{"s":"lb","t":2.2,"v":4.1e-15},{"s":"lb","t":3.2,"v":5.9e-15},{"s":"lb","t":4.2,"v":8.6e-15},{"s":"lb","t":4.9,"v":1.56e-14},{"s":"lb","t":5.7,"v":2.1e-14},{"s":"lb","t":6.9,"v":2.6e-14},{"s":"lb","t":8.1,"v":3.5e-14},{"s":"lb","t":9.3,"v":4.3e-14},{"s":"lb","t":9.7,"v":4.1e-14},{"s":"lb","t":10.1,"v":2.1e-14},{"s":"lb","t":10.5,"v":9.3e-15},{"s":"lb","t":11.1,"v":5.1e-15},{"s":"lb","t":11.7,"v":5.9e-15},{"s":"lb","t":12.1,"v":4.1e-15},{"s":"lb","t":12.8,"v":2.8e-15},{"s":"lb","t":13.6,"v":2.26e-15},{"s":"lb","t":14.4,"v":1.68e-15},{"s":"lb","t":15.2,"v":1.25e-15},{"s":"lb","t":16.0,"v":1.0e-15},{"s":"lb","t":16.6,"v":8e-16},{"s":"lb","t":17.2,"v":5.7e-16},{"s":"lb","t":17.8,"v":6.4e-16},{"s":"lb","t":18.4,"v":4.4e-16},{"s":"lb","t":19.2,"v":3.8e-16},{"s":"lb","t":20.0,"v":3.05e-16},{"s":"lb","t":20.8,"v":3.3e-16},{"s":"lb","t":21.5,"v":2.26e-16},{"s":"lb","t":22.3,"v":2.8e-16},{"s":"lb","t":22.9,"v":2.1e-16},{"s":"lb","t":23.5,"v":2.6e-16},{"s":"lb","t":24.1,"v":1.8e-16},{"s":"lb","t":24.5,"v":3.05e-16},{"s":"lb","t":25,"v":3.5e-16},
      {"s":"db","t":0,"v":2.8e-14},{"s":"db","t":0.4,"v":3.3e-15},{"s":"db","t":0.8,"v":2.1e-15},{"s":"db","t":1.4,"v":2.26e-15},{"s":"db","t":2.2,"v":2.8e-15},{"s":"db","t":3.0,"v":3.8e-15},{"s":"db","t":4.0,"v":5.5e-15},{"s":"db","t":5.1,"v":9.3e-15},{"s":"db","t":6.5,"v":1.56e-14},{"s":"db","t":7.7,"v":2.1e-14},{"s":"db","t":8.9,"v":3.0e-14},{"s":"db","t":10.1,"v":4.4e-14},{"s":"db","t":10.7,"v":4.9e-14},{"s":"db","t":11.2,"v":4.7e-14},{"s":"db","t":11.4,"v":2.1e-14},{"s":"db","t":11.6,"v":8e-15},{"s":"db","t":12.0,"v":5.1e-15},{"s":"db","t":12.3,"v":3.5e-15},{"s":"db","t":12.8,"v":5.5e-15},{"s":"db","t":13.3,"v":6.9e-15},{"s":"db","t":14.0,"v":5.5e-15},{"s":"db","t":14.8,"v":3.3e-15},{"s":"db","t":15.6,"v":2.1e-15},{"s":"db","t":16.4,"v":1.35e-15},{"s":"db","t":17.2,"v":1.0e-15},{"s":"db","t":18.0,"v":8e-16},{"s":"db","t":18.8,"v":6.9e-16},{"s":"db","t":19.6,"v":5.9e-16},{"s":"db","t":20.2,"v":6.9e-16},{"s":"db","t":20.6,"v":4.8e-16},{"s":"db","t":21.5,"v":3.3e-16},{"s":"db","t":22.3,"v":2.6e-16},{"s":"db","t":23.1,"v":2.1e-16},{"s":"db","t":23.9,"v":1.95e-16},{"s":"db","t":24.3,"v":3.05e-16},{"s":"db","t":24.6,"v":1.68e-16},{"s":"db","t":25,"v":2.6e-16},
      {"s":"pk","t":0,"v":2.45e-14},{"s":"pk","t":0.4,"v":4.1e-15},{"s":"pk","t":0.8,"v":2.6e-15},{"s":"pk","t":1.6,"v":3.05e-15},{"s":"pk","t":2.6,"v":4.4e-15},{"s":"pk","t":3.6,"v":7.4e-15},{"s":"pk","t":4.5,"v":1.25e-14},{"s":"pk","t":5.7,"v":1.95e-14},{"s":"pk","t":6.5,"v":2.6e-14},{"s":"pk","t":7.7,"v":3.3e-14},{"s":"pk","t":8.9,"v":4.6e-14},{"s":"pk","t":9.9,"v":6.4e-14},{"s":"pk","t":10.7,"v":7.7e-14},{"s":"pk","t":11.3,"v":8.3e-14},{"s":"pk","t":11.5,"v":5.5e-14},{"s":"pk","t":11.9,"v":2.2e-14},{"s":"pk","t":12.3,"v":3.5e-15},{"s":"pk","t":12.6,"v":1.45e-14},{"s":"pk","t":13.2,"v":8.6e-15},{"s":"pk","t":14.0,"v":5.1e-15},{"s":"pk","t":14.8,"v":3.05e-15},{"s":"pk","t":15.6,"v":1.95e-15},{"s":"pk","t":16.4,"v":1.45e-15},{"s":"pk","t":17.4,"v":1.0e-15},{"s":"pk","t":18.4,"v":8.6e-16},{"s":"pk","t":19.4,"v":7.4e-16},{"s":"pk","t":20.2,"v":5.5e-16},{"s":"pk","t":21.0,"v":5.1e-16},{"s":"pk","t":21.7,"v":4.2e-16},{"s":"pk","t":22.7,"v":4.4e-16},{"s":"pk","t":23.3,"v":5.9e-16},{"s":"pk","t":23.7,"v":3.05e-16},{"s":"pk","t":24.1,"v":5.7e-16},{"s":"pk","t":24.5,"v":3.05e-16},{"s":"pk","t":25,"v":2.45e-16},
      {"s":"gr","t":0,"v":2.1e-14},{"s":"gr","t":0.4,"v":2.6e-15},{"s":"gr","t":0.7,"v":1.7e-15},{"s":"gr","t":1.2,"v":2.2e-15},{"s":"gr","t":1.5,"v":1.7e-15},{"s":"gr","t":1.8,"v":3.8e-15},{"s":"gr","t":2.1,"v":1.3e-15},{"s":"gr","t":2.4,"v":3.3e-15},{"s":"gr","t":2.6,"v":6.9e-15},{"s":"gr","t":3.0,"v":3.5e-15},{"s":"gr","t":3.4,"v":4.4e-15},{"s":"gr","t":3.8,"v":1.4e-15},{"s":"gr","t":4.2,"v":3.8e-15},{"s":"gr","t":4.5,"v":4.7e-15},{"s":"gr","t":4.9,"v":3.3e-15},{"s":"gr","t":5.4,"v":3.3e-15},{"s":"gr","t":5.9,"v":4.4e-15},{"s":"gr","t":6.5,"v":4.7e-15},{"s":"gr","t":6.9,"v":4.4e-15},{"s":"gr","t":7.3,"v":5.9e-15},{"s":"gr","t":7.7,"v":5.5e-15},{"s":"gr","t":8.1,"v":7.4e-15},{"s":"gr","t":8.5,"v":6.9e-15},{"s":"gr","t":8.9,"v":1.0e-14},{"s":"gr","t":9.4,"v":8.6e-15},{"s":"gr","t":10.1,"v":1.16e-14},{"s":"gr","t":10.7,"v":1.25e-14},{"s":"gr","t":11.5,"v":1.85e-14},{"s":"gr","t":11.9,"v":1.56e-14},{"s":"gr","t":12.5,"v":2.45e-14},{"s":"gr","t":13.4,"v":3.3e-14},{"s":"gr","t":14.4,"v":4.4e-14},{"s":"gr","t":15.4,"v":5.9e-14},{"s":"gr","t":16.4,"v":6.4e-14},{"s":"gr","t":17.0,"v":6.6e-14},{"s":"gr","t":17.8,"v":5.5e-14},{"s":"gr","t":18.4,"v":4.1e-14},{"s":"gr","t":18.8,"v":1.25e-14},{"s":"gr","t":19.1,"v":5.5e-15},{"s":"gr","t":19.4,"v":1.35e-14},{"s":"gr","t":20.0,"v":5.9e-15},{"s":"gr","t":20.4,"v":4.4e-15},{"s":"gr","t":20.8,"v":1.07e-14},{"s":"gr","t":21.1,"v":4.4e-15},{"s":"gr","t":21.5,"v":1.07e-14},{"s":"gr","t":22.0,"v":3.05e-15},{"s":"gr","t":22.4,"v":6.9e-15},{"s":"gr","t":22.7,"v":1.07e-14},{"s":"gr","t":23.1,"v":9.3e-15},{"s":"gr","t":23.7,"v":1.25e-14},{"s":"gr","t":24.3,"v":3.3e-15},{"s":"gr","t":24.7,"v":1.45e-15},{"s":"gr","t":25,"v":3.8e-15},
      {"s":"or","t":0,"v":2.1e-14},{"s":"or","t":0.6,"v":2.26e-15},{"s":"or","t":1.6,"v":2.5e-15},{"s":"or","t":2.6,"v":2.4e-15},{"s":"or","t":3.8,"v":2.6e-15},{"s":"or","t":4.9,"v":3.1e-15},{"s":"or","t":6.1,"v":4.7e-15},{"s":"or","t":7.3,"v":5.9e-15},{"s":"or","t":8.5,"v":7.4e-15},{"s":"or","t":9.0,"v":8.9e-15},{"s":"or","t":10.1,"v":1.16e-14},{"s":"or","t":11.3,"v":1.68e-14},{"s":"or","t":12.5,"v":2.1e-14},{"s":"or","t":14.0,"v":2.5e-14},{"s":"or","t":15.6,"v":2.9e-14},{"s":"or","t":17.0,"v":3.3e-14},{"s":"or","t":18.2,"v":3.3e-14},{"s":"or","t":18.8,"v":2.45e-14},{"s":"or","t":19.3,"v":1.8e-14},{"s":"or","t":19.8,"v":1.35e-14},{"s":"or","t":20.2,"v":7.4e-15},{"s":"or","t":20.6,"v":3.8e-15},{"s":"or","t":21.0,"v":1.8e-15},{"s":"or","t":21.3,"v":7.4e-16},{"s":"or","t":21.7,"v":3.05e-16},{"s":"or","t":22.1,"v":1.7e-16},{"s":"or","t":22.5,"v":1.08e-16},{"s":"or","t":22.8,"v":8e-17},
      {"s":"rd","t":0,"v":2.26e-14},{"s":"rd","t":0.6,"v":1.96e-15},{"s":"rd","t":1.6,"v":2.26e-15},{"s":"rd","t":2.6,"v":2.2e-15},{"s":"rd","t":3.6,"v":2.15e-15},{"s":"rd","t":4.5,"v":2.26e-15},{"s":"rd","t":5.7,"v":2.5e-15},{"s":"rd","t":6.9,"v":3.3e-15},{"s":"rd","t":8.1,"v":4.1e-15},{"s":"rd","t":9.3,"v":5.9e-15},{"s":"rd","t":10.5,"v":8.6e-15},{"s":"rd","t":11.5,"v":1.16e-14},{"s":"rd","t":12.4,"v":1.3e-14},{"s":"rd","t":13.4,"v":1.95e-14},{"s":"rd","t":15.0,"v":2.6e-14},{"s":"rd","t":16.4,"v":3.05e-14},{"s":"rd","t":17.8,"v":3.5e-14},{"s":"rd","t":19.2,"v":4.1e-14},{"s":"rd","t":19.8,"v":4.4e-14},{"s":"rd","t":20.4,"v":4.4e-14},{"s":"rd","t":21.1,"v":3.5e-14},{"s":"rd","t":21.7,"v":2.45e-14},{"s":"rd","t":22.3,"v":1.45e-14},{"s":"rd","t":22.7,"v":6.9e-15},{"s":"rd","t":23.0,"v":2.26e-15},{"s":"rd","t":23.3,"v":7.4e-16},{"s":"rd","t":23.7,"v":2.45e-16},{"s":"rd","t":24.3,"v":1.25e-16},{"s":"rd","t":24.7,"v":1.1e-16},{"s":"rd","t":25,"v":1.35e-16},
      {"s":"gy","t":0,"v":1.45e-14},{"s":"gy","t":0.5,"v":4.1e-15},{"s":"gy","t":1.0,"v":2.26e-15},{"s":"gy","t":1.4,"v":1.35e-15},{"s":"gy","t":1.6,"v":1.7e-16},{"s":"gy","t":1.8,"v":1.2e-16},{"s":"gy","t":2.1,"v":1.55e-15},{"s":"gy","t":2.5,"v":8.6e-15},{"s":"gy","t":3.0,"v":3.3e-15},{"s":"gy","t":3.4,"v":6.9e-15},{"s":"gy","t":3.8,"v":1.55e-15},{"s":"gy","t":4.3,"v":2.8e-15},{"s":"gy","t":4.8,"v":5.5e-15},{"s":"gy","t":5.4,"v":9.3e-16},{"s":"gy","t":5.8,"v":3.3e-15},{"s":"gy","t":6.5,"v":2.26e-15},{"s":"gy","t":7.3,"v":2.8e-15},{"s":"gy","t":8.1,"v":3.8e-15},{"s":"gy","t":8.5,"v":2.1e-15},{"s":"gy","t":9.1,"v":4.1e-15},{"s":"gy","t":9.9,"v":3.3e-15},{"s":"gy","t":10.5,"v":4.4e-15},{"s":"gy","t":11.1,"v":8e-15},{"s":"gy","t":11.7,"v":4.8e-15},{"s":"gy","t":12.1,"v":5.9e-15},{"s":"gy","t":12.6,"v":3.3e-15},{"s":"gy","t":13.2,"v":5.5e-15},{"s":"gy","t":13.6,"v":3.3e-15},{"s":"gy","t":14.2,"v":5.9e-15},{"s":"gy","t":14.8,"v":4.4e-15},{"s":"gy","t":15.6,"v":8e-15},{"s":"gy","t":16.2,"v":5.1e-15},{"s":"gy","t":16.8,"v":9.3e-15},{"s":"gy","t":17.4,"v":4.8e-15},{"s":"gy","t":18.0,"v":1.07e-14},{"s":"gy","t":18.6,"v":6.9e-15},{"s":"gy","t":19.4,"v":9.3e-15},{"s":"gy","t":20.0,"v":8e-15},{"s":"gy","t":20.8,"v":1.07e-14},{"s":"gy","t":21.5,"v":8.6e-15},{"s":"gy","t":22.3,"v":1.25e-14},{"s":"gy","t":23.1,"v":1.45e-14},{"s":"gy","t":23.9,"v":1.56e-14},{"s":"gy","t":25,"v":1.8e-14},
      {"s":"dk","t":0,"v":1.04e-14},{"s":"dk","t":0.5,"v":1.2e-15},{"s":"dk","t":1.0,"v":1.08e-15},{"s":"dk","t":1.5,"v":1.12e-15},{"s":"dk","t":1.8,"v":1.04e-15},{"s":"dk","t":3.2,"v":1.04e-15},{"s":"dk","t":3.8,"v":1.16e-15},{"s":"dk","t":4.2,"v":1.04e-15},{"s":"dk","t":5.3,"v":1.16e-15},{"s":"dk","t":6.3,"v":9.3e-16},{"s":"dk","t":7.5,"v":1.0e-15},{"s":"dk","t":10.5,"v":1.08e-15},{"s":"dk","t":12.5,"v":1.0e-15},{"s":"dk","t":13.0,"v":8.3e-16},{"s":"dk","t":14.4,"v":8.9e-16},{"s":"dk","t":16.4,"v":8.6e-16},{"s":"dk","t":18.4,"v":8.7e-16},{"s":"dk","t":20.4,"v":8.6e-16},{"s":"dk","t":21.0,"v":9.3e-16},{"s":"dk","t":22.3,"v":8.3e-16},{"s":"dk","t":23.3,"v":8.0e-16},{"s":"dk","t":24.2,"v":6.2e-16},{"s":"dk","t":25,"v":6.65e-16}
    ]
  },
  "bounds": "flush",
  "columns": 3,
  "spacing": {"row": 159, "column": 131},
  "concat": [
    {
      "width": 541, "height": 405,
      "layer": [
        {"data": {"name": "A"}, "mark": {"type": "line", "strokeWidth": 4, "clip": false, "strokeCap": "butt", "strokeJoin": "round"},
         "encoding": {
           "x": {"field": "t", "type": "quantitative", "scale": {"domain": [0, 25], "nice": false, "zero": false}, "axis": {"values": [0,5,10,15,20,25], "format": "d", "title": "time (Myr)"}},
           "y": {"field": "v", "type": "quantitative", "scale": {"domain": [0, 1200], "nice": false, "zero": false}, "axis": {"values": [0,200,400,600,800,1000,1200], "format": "d", "title": "width of deformed zone (km)"}},
           "color": {"field": "s", "type": "nominal", "scale": {"domain": ["lb","db","pk","gr","or","rd","gy","dk"], "range": ["#56B4E9","#0072B2","#E48BBE","#4E8A21","#E69F00","#D55E00","#A9AF8F","#4D4D4D"]}, "legend": null},
           "strokeDash": {"field": "s", "type": "nominal", "scale": {"domain": ["lb","db","pk","gr","or","rd","gy","dk"], "range": [[15,6.5],[1,0],[1,0],[1,0],[15,6.5],[1,0],[15,6.5],[1,0]]}, "legend": null}
         }},
        {"data": {"name": "mk"}, "transform": [{"filter": "datum.p == 'a' && datum.k == 'tr' && (datum.s == 'lb' || datum.s == 'or')"}],
         "mark": {"type": "point", "shape": "circle", "size": 270, "filled": false, "fill": "white", "strokeWidth": 3, "opacity": 1},
         "encoding": {"x": {"field": "t", "type": "quantitative", "scale": {"domain": [0, 25], "nice": false, "zero": false}, "axis": null}, "y": {"field": "v", "type": "quantitative", "scale": {"domain": [0, 1200], "nice": false, "zero": false}, "axis": null}, "color": {"field": "s", "type": "nominal", "legend": null}}},
        {"data": {"name": "mk"}, "transform": [{"filter": "datum.p == 'a' && datum.k == 'tr' && datum.s != 'lb' && datum.s != 'or'"}],
         "mark": {"type": "point", "shape": "circle", "size": 270, "filled": true, "opacity": 1},
         "encoding": {"x": {"field": "t", "type": "quantitative", "scale": {"domain": [0, 25], "nice": false, "zero": false}, "axis": null}, "y": {"field": "v", "type": "quantitative", "scale": {"domain": [0, 1200], "nice": false, "zero": false}, "axis": null}, "color": {"field": "s", "type": "nominal", "legend": null}}},
        {"data": {"name": "mk"}, "transform": [{"filter": "datum.p == 'a' && datum.k == 'pb' && (datum.s == 'lb' || datum.s == 'or')"}],
         "mark": {"type": "point", "shape": "M0,-1L0.2245,-0.309L0.951,-0.309L0.363,0.118L0.588,0.809L0,0.382L-0.588,0.809L-0.363,0.118L-0.951,-0.309L-0.2245,-0.309Z", "size": 866, "filled": false, "fill": "white", "strokeWidth": 3, "opacity": 1},
         "encoding": {"x": {"field": "t", "type": "quantitative", "scale": {"domain": [0, 25], "nice": false, "zero": false}, "axis": null}, "y": {"field": "v", "type": "quantitative", "scale": {"domain": [0, 1200], "nice": false, "zero": false}, "axis": null}, "color": {"field": "s", "type": "nominal", "legend": null}}},
        {"data": {"name": "mk"}, "transform": [{"filter": "datum.p == 'a' && datum.k == 'pb' && datum.s != 'lb' && datum.s != 'or'"}],
         "mark": {"type": "point", "shape": "M0,-1L0.2245,-0.309L0.951,-0.309L0.363,0.118L0.588,0.809L0,0.382L-0.588,0.809L-0.363,0.118L-0.951,-0.309L-0.2245,-0.309Z", "size": 866, "filled": true, "opacity": 1},
         "encoding": {"x": {"field": "t", "type": "quantitative", "scale": {"domain": [0, 25], "nice": false, "zero": false}, "axis": null}, "y": {"field": "v", "type": "quantitative", "scale": {"domain": [0, 1200], "nice": false, "zero": false}, "axis": null}, "color": {"field": "s", "type": "nominal", "legend": null}}},
        {"data": {"values": [{"u": 0, "w": 0}]}, "mark": {"type": "point", "opacity": 0},
         "encoding": {
           "x": {"field": "u", "type": "quantitative", "scale": {"domain": [0, 41.65], "nice": false, "zero": false}, "axis": {"orient": "top", "values": [0,10,20,30,40], "format": "d", "title": "strain (%)"}},
           "y": {"field": "w", "type": "quantitative", "scale": {"domain": [0, 1200], "nice": false, "zero": false}, "axis": {"orient": "right", "values": [0,200,400,600,800,1000,1200], "labels": false, "title": null}}
         }},
        {"data": {"name": "ft"}, "transform": [{"filter": "datum.p == 'a' && datum.k == 'L'"}],
         "mark": {"type": "text", "align": "left", "baseline": "middle", "fontWeight": "bold", "fontSize": 26, "color": "black"},
         "encoding": {
           "x": {"field": "x", "type": "quantitative", "scale": {"domain": [0, 1], "nice": false, "zero": false}, "axis": null},
           "y": {"field": "y", "type": "quantitative", "scale": {"domain": [0, 1], "nice": false, "zero": false}, "axis": null},
           "text": {"field": "t"}
         }},
        {"data": {"name": "lgl"}, "mark": {"type": "rule", "strokeWidth": 4.3, "strokeCap": "butt"},
         "encoding": {
           "x": {"field": "x", "type": "quantitative", "scale": {"domain": [110, 651], "nice": false, "zero": false}, "axis": null},
           "x2": {"field": "x2"},
           "y": {"field": "y", "type": "quantitative", "scale": {"domain": [224, 629], "nice": false, "zero": false, "reverse": true}, "axis": null},
           "color": {"field": "s", "type": "nominal", "legend": null},
           "strokeDash": {"field": "s", "type": "nominal", "legend": null}
         }},
        {"data": {"name": "lgt"}, "transform": [{"filter": "datum.k == 'h'"}],
         "mark": {"type": "text", "align": "left", "baseline": "alphabetic", "fontSize": 29, "color": "black"},
         "encoding": {
           "x": {"field": "x", "type": "quantitative", "scale": {"domain": [110, 651], "nice": false, "zero": false}, "axis": null},
           "y": {"field": "y", "type": "quantitative", "scale": {"domain": [224, 629], "nice": false, "zero": false, "reverse": true}, "axis": null},
           "text": {"field": "t"}
         }},
        {"data": {"name": "lgt"}, "transform": [{"filter": "datum.k == 'n'"}],
         "mark": {"type": "text", "align": "left", "baseline": "alphabetic", "fontSize": 26, "color": "black"},
         "encoding": {
           "x": {"field": "x", "type": "quantitative", "scale": {"domain": [110, 651], "nice": false, "zero": false}, "axis": null},
           "y": {"field": "y", "type": "quantitative", "scale": {"domain": [224, 629], "nice": false, "zero": false, "reverse": true}, "axis": null},
           "text": {"field": "t"}
         }},
        {"data": {"name": "lgt"}, "transform": [{"filter": "datum.k == 'i'"}],
         "mark": {"type": "text", "align": "left", "baseline": "alphabetic", "fontSize": 26, "fontStyle": "italic", "color": "black"},
         "encoding": {
           "x": {"field": "x", "type": "quantitative", "scale": {"domain": [110, 651], "nice": false, "zero": false}, "axis": null},
           "y": {"field": "y", "type": "quantitative", "scale": {"domain": [224, 629], "nice": false, "zero": false, "reverse": true}, "axis": null},
           "text": {"field": "t"}
         }},
        {"data": {"name": "lgt"}, "transform": [{"filter": "datum.k == 'bi'"}],
         "mark": {"type": "text", "align": "left", "baseline": "alphabetic", "fontSize": 26, "fontStyle": "italic", "fontWeight": "bold", "color": "black"},
         "encoding": {
           "x": {"field": "x", "type": "quantitative", "scale": {"domain": [110, 651], "nice": false, "zero": false}, "axis": null},
           "y": {"field": "y", "type": "quantitative", "scale": {"domain": [224, 629], "nice": false, "zero": false, "reverse": true}, "axis": null},
           "text": {"field": "t"}
         }},
        {"data": {"name": "lgt"}, "transform": [{"filter": "datum.k == 's'"}],
         "mark": {"type": "text", "align": "left", "baseline": "alphabetic", "fontSize": 18.2, "color": "black"},
         "encoding": {
           "x": {"field": "x", "type": "quantitative", "scale": {"domain": [110, 651], "nice": false, "zero": false}, "axis": null},
           "y": {"field": "y", "type": "quantitative", "scale": {"domain": [224, 629], "nice": false, "zero": false, "reverse": true}, "axis": null},
           "text": {"field": "t"}
         }},
        {"data": {"name": "lgt"}, "transform": [{"filter": "datum.k == 'si'"}],
         "mark": {"type": "text", "align": "left", "baseline": "alphabetic", "fontSize": 18.2, "fontStyle": "italic", "color": "black"},
         "encoding": {
           "x": {"field": "x", "type": "quantitative", "scale": {"domain": [110, 651], "nice": false, "zero": false}, "axis": null},
           "y": {"field": "y", "type": "quantitative", "scale": {"domain": [224, 629], "nice": false, "zero": false, "reverse": true}, "axis": null},
           "text": {"field": "t"}
         }},
        {"data": {"name": "lgm"}, "transform": [{"filter": "datum.k == 'tr' && datum.f == 'o'"}],
         "mark": {"type": "point", "shape": "circle", "size": 300, "filled": false, "fill": "white", "stroke": "black", "strokeWidth": 3, "opacity": 1},
         "encoding": {
           "x": {"field": "x", "type": "quantitative", "scale": {"domain": [110, 651], "nice": false, "zero": false}, "axis": null},
           "y": {"field": "y", "type": "quantitative", "scale": {"domain": [224, 629], "nice": false, "zero": false, "reverse": true}, "axis": null}
         }},
        {"data": {"name": "lgm"}, "transform": [{"filter": "datum.k == 'tr' && datum.f == 'f'"}],
         "mark": {"type": "point", "shape": "circle", "size": 300, "filled": true, "fill": "black", "opacity": 1},
         "encoding": {
           "x": {"field": "x", "type": "quantitative", "scale": {"domain": [110, 651], "nice": false, "zero": false}, "axis": null},
           "y": {"field": "y", "type": "quantitative", "scale": {"domain": [224, 629], "nice": false, "zero": false, "reverse": true}, "axis": null}
         }},
        {"data": {"name": "lgm"}, "transform": [{"filter": "datum.k == 'pb' && datum.f == 'o'"}],
         "mark": {"type": "point", "shape": "M0,-1L0.2245,-0.309L0.951,-0.309L0.363,0.118L0.588,0.809L0,0.382L-0.588,0.809L-0.363,0.118L-0.951,-0.309L-0.2245,-0.309Z", "size": 1400, "filled": false, "fill": "white", "stroke": "black", "strokeWidth": 3, "opacity": 1},
         "encoding": {
           "x": {"field": "x", "type": "quantitative", "scale": {"domain": [110, 651], "nice": false, "zero": false}, "axis": null},
           "y": {"field": "y", "type": "quantitative", "scale": {"domain": [224, 629], "nice": false, "zero": false, "reverse": true}, "axis": null}
         }},
        {"data": {"name": "lgm"}, "transform": [{"filter": "datum.k == 'pb' && datum.f == 'f'"}],
         "mark": {"type": "point", "shape": "M0,-1L0.2245,-0.309L0.951,-0.309L0.363,0.118L0.588,0.809L0,0.382L-0.588,0.809L-0.363,0.118L-0.951,-0.309L-0.2245,-0.309Z", "size": 1400, "filled": true, "fill": "black", "opacity": 1},
         "encoding": {
           "x": {"field": "x", "type": "quantitative", "scale": {"domain": [110, 651], "nice": false, "zero": false}, "axis": null},
           "y": {"field": "y", "type": "quantitative", "scale": {"domain": [224, 629], "nice": false, "zero": false, "reverse": true}, "axis": null}
         }}
      ],
      "resolve": {"scale": {"x": "independent", "y": "independent"}}
    },
    {
      "width": 541, "height": 405,
      "layer": [
        {"data": {"name": "B"}, "mark": {"type": "line", "strokeWidth": 4, "clip": false, "strokeCap": "butt", "strokeJoin": "round"},
         "encoding": {
           "x": {"field": "t", "type": "quantitative", "scale": {"domain": [0, 25], "nice": false, "zero": false}, "axis": {"values": [0,5,10,15,20,25], "format": "d", "title": "time (Myr)"}},
           "y": {"field": "v", "type": "quantitative", "scale": {"domain": [0, 105], "nice": false, "zero": false, "reverse": true}, "axis": {"values": [0,20,40,60,80,100], "format": "d", "title": null}},
           "color": {"field": "s", "type": "nominal", "scale": {"domain": ["lb","db","pk","gr","or","rd","gy","dk"], "range": ["#56B4E9","#0072B2","#E48BBE","#4E8A21","#E69F00","#D55E00","#A9AF8F","#4D4D4D"]}, "legend": null},
           "strokeDash": {"field": "s", "type": "nominal", "scale": {"domain": ["lb","db","pk","gr","or","rd","gy","dk"], "range": [[15,6.5],[1,0],[1,0],[1,0],[15,6.5],[1,0],[15,6.5],[1,0]]}, "legend": null}
         }},
        {"data": {"name": "mk"}, "transform": [{"filter": "datum.p == 'b' && datum.k == 'tr' && (datum.s == 'lb' || datum.s == 'or')"}],
         "mark": {"type": "point", "shape": "circle", "size": 270, "filled": false, "fill": "white", "strokeWidth": 3, "opacity": 1},
         "encoding": {"x": {"field": "t", "type": "quantitative", "scale": {"domain": [0, 25], "nice": false, "zero": false}, "axis": null}, "y": {"field": "v", "type": "quantitative", "scale": {"domain": [0, 105], "nice": false, "zero": false, "reverse": true}, "axis": null}, "color": {"field": "s", "type": "nominal", "legend": null}}},
        {"data": {"name": "mk"}, "transform": [{"filter": "datum.p == 'b' && datum.k == 'tr' && datum.s != 'lb' && datum.s != 'or'"}],
         "mark": {"type": "point", "shape": "circle", "size": 270, "filled": true, "opacity": 1},
         "encoding": {"x": {"field": "t", "type": "quantitative", "scale": {"domain": [0, 25], "nice": false, "zero": false}, "axis": null}, "y": {"field": "v", "type": "quantitative", "scale": {"domain": [0, 105], "nice": false, "zero": false, "reverse": true}, "axis": null}, "color": {"field": "s", "type": "nominal", "legend": null}}},
        {"data": {"name": "mk"}, "transform": [{"filter": "datum.p == 'b' && datum.k == 'pb' && (datum.s == 'lb' || datum.s == 'or')"}],
         "mark": {"type": "point", "shape": "M0,-1L0.2245,-0.309L0.951,-0.309L0.363,0.118L0.588,0.809L0,0.382L-0.588,0.809L-0.363,0.118L-0.951,-0.309L-0.2245,-0.309Z", "size": 866, "filled": false, "fill": "white", "strokeWidth": 3, "opacity": 1},
         "encoding": {"x": {"field": "t", "type": "quantitative", "scale": {"domain": [0, 25], "nice": false, "zero": false}, "axis": null}, "y": {"field": "v", "type": "quantitative", "scale": {"domain": [0, 105], "nice": false, "zero": false, "reverse": true}, "axis": null}, "color": {"field": "s", "type": "nominal", "legend": null}}},
        {"data": {"name": "mk"}, "transform": [{"filter": "datum.p == 'b' && datum.k == 'pb' && datum.s != 'lb' && datum.s != 'or'"}],
         "mark": {"type": "point", "shape": "M0,-1L0.2245,-0.309L0.951,-0.309L0.363,0.118L0.588,0.809L0,0.382L-0.588,0.809L-0.363,0.118L-0.951,-0.309L-0.2245,-0.309Z", "size": 866, "filled": true, "opacity": 1},
         "encoding": {"x": {"field": "t", "type": "quantitative", "scale": {"domain": [0, 25], "nice": false, "zero": false}, "axis": null}, "y": {"field": "v", "type": "quantitative", "scale": {"domain": [0, 105], "nice": false, "zero": false, "reverse": true}, "axis": null}, "color": {"field": "s", "type": "nominal", "legend": null}}},
        {"data": {"values": [{"u": 0, "w": 0}]}, "mark": {"type": "point", "opacity": 0},
         "encoding": {
           "x": {"field": "u", "type": "quantitative", "scale": {"domain": [0, 41.65], "nice": false, "zero": false}, "axis": {"orient": "top", "values": [0,10,20,30,40], "format": "d", "title": "strain (%)"}},
           "y": {"field": "w", "type": "quantitative", "scale": {"domain": [0, 105], "nice": false, "zero": false, "reverse": true}, "axis": {"orient": "right", "values": [0,20,40,60,80,100], "labels": false, "title": null}}
         }},
        {"data": {"name": "ft"}, "transform": [{"filter": "datum.p == 'b' && datum.k == 'L'"}],
         "mark": {"type": "text", "align": "left", "baseline": "middle", "fontWeight": "bold", "fontSize": 26, "color": "black"},
         "encoding": {
           "x": {"field": "x", "type": "quantitative", "scale": {"domain": [0, 1], "nice": false, "zero": false}, "axis": null},
           "y": {"field": "y", "type": "quantitative", "scale": {"domain": [0, 1], "nice": false, "zero": false}, "axis": null},
           "text": {"field": "t"}
         }},
        {"data": {"name": "ft"}, "transform": [{"filter": "datum.p == 'b' && datum.k == 'n'"}],
         "mark": {"type": "text", "angle": 270, "align": "left", "baseline": "alphabetic", "fontSize": 25, "color": "black"},
         "encoding": {
           "x": {"field": "x", "type": "quantitative", "scale": {"domain": [0, 1], "nice": false, "zero": false}, "axis": null},
           "y": {"field": "y", "type": "quantitative", "scale": {"domain": [0, 1], "nice": false, "zero": false}, "axis": null},
           "text": {"field": "t"}
         }},
        {"data": {"name": "ft"}, "transform": [{"filter": "datum.p == 'b' && datum.k == 'i'"}],
         "mark": {"type": "text", "angle": 270, "align": "left", "baseline": "alphabetic", "fontSize": 25, "fontStyle": "italic", "color": "black"},
         "encoding": {
           "x": {"field": "x", "type": "quantitative", "scale": {"domain": [0, 1], "nice": false, "zero": false}, "axis": null},
           "y": {"field": "y", "type": "quantitative", "scale": {"domain": [0, 1], "nice": false, "zero": false}, "axis": null},
           "text": {"field": "t"}
         }},
        {"data": {"name": "ft"}, "transform": [{"filter": "datum.p == 'b' && datum.k == 'si'"}],
         "mark": {"type": "text", "angle": 270, "align": "left", "baseline": "alphabetic", "fontSize": 17.5, "fontStyle": "italic", "color": "black"},
         "encoding": {
           "x": {"field": "x", "type": "quantitative", "scale": {"domain": [0, 1], "nice": false, "zero": false}, "axis": null},
           "y": {"field": "y", "type": "quantitative", "scale": {"domain": [0, 1], "nice": false, "zero": false}, "axis": null},
           "text": {"field": "t"}
         }}
      ],
      "resolve": {"scale": {"x": "independent", "y": "independent"}}
    },
    {
      "width": 541, "height": 405,
      "layer": [
        {"data": {"name": "C"}, "mark": {"type": "line", "strokeWidth": 4, "clip": false, "strokeCap": "butt", "strokeJoin": "round"},
         "encoding": {
           "x": {"field": "t", "type": "quantitative", "scale": {"domain": [0, 25], "nice": false, "zero": false}, "axis": {"values": [0,5,10,15,20,25], "format": "d", "title": "time (Myr)"}},
           "y": {"field": "v", "type": "quantitative", "scale": {"domain": [0, 70], "nice": false, "zero": false}, "axis": {"values": [0,10,20,30,40,50,60,70], "format": "d", "title": "Tectonic Force\u00a0\u00a0\u00a0(TN m⁻¹)"}},
           "color": {"field": "s", "type": "nominal", "scale": {"domain": ["lb","db","pk","gr","or","rd","gy","dk"], "range": ["#56B4E9","#0072B2","#E48BBE","#4E8A21","#E69F00","#D55E00","#A9AF8F","#4D4D4D"]}, "legend": null},
           "strokeDash": {"field": "s", "type": "nominal", "scale": {"domain": ["lb","db","pk","gr","or","rd","gy","dk"], "range": [[15,6.5],[1,0],[1,0],[1,0],[15,6.5],[1,0],[15,6.5],[1,0]]}, "legend": null}
         }},
        {"data": {"name": "mk"}, "transform": [{"filter": "datum.p == 'c' && datum.k == 'tr' && (datum.s == 'lb' || datum.s == 'or')"}],
         "mark": {"type": "point", "shape": "circle", "size": 270, "filled": false, "fill": "white", "strokeWidth": 3, "opacity": 1},
         "encoding": {"x": {"field": "t", "type": "quantitative", "scale": {"domain": [0, 25], "nice": false, "zero": false}, "axis": null}, "y": {"field": "v", "type": "quantitative", "scale": {"domain": [0, 70], "nice": false, "zero": false}, "axis": null}, "color": {"field": "s", "type": "nominal", "legend": null}}},
        {"data": {"name": "mk"}, "transform": [{"filter": "datum.p == 'c' && datum.k == 'tr' && datum.s != 'lb' && datum.s != 'or'"}],
         "mark": {"type": "point", "shape": "circle", "size": 270, "filled": true, "opacity": 1},
         "encoding": {"x": {"field": "t", "type": "quantitative", "scale": {"domain": [0, 25], "nice": false, "zero": false}, "axis": null}, "y": {"field": "v", "type": "quantitative", "scale": {"domain": [0, 70], "nice": false, "zero": false}, "axis": null}, "color": {"field": "s", "type": "nominal", "legend": null}}},
        {"data": {"name": "mk"}, "transform": [{"filter": "datum.p == 'c' && datum.k == 'pb' && (datum.s == 'lb' || datum.s == 'or')"}],
         "mark": {"type": "point", "shape": "M0,-1L0.2245,-0.309L0.951,-0.309L0.363,0.118L0.588,0.809L0,0.382L-0.588,0.809L-0.363,0.118L-0.951,-0.309L-0.2245,-0.309Z", "size": 866, "filled": false, "fill": "white", "strokeWidth": 3, "opacity": 1},
         "encoding": {"x": {"field": "t", "type": "quantitative", "scale": {"domain": [0, 25], "nice": false, "zero": false}, "axis": null}, "y": {"field": "v", "type": "quantitative", "scale": {"domain": [0, 70], "nice": false, "zero": false}, "axis": null}, "color": {"field": "s", "type": "nominal", "legend": null}}},
        {"data": {"name": "mk"}, "transform": [{"filter": "datum.p == 'c' && datum.k == 'pb' && datum.s != 'lb' && datum.s != 'or'"}],
         "mark": {"type": "point", "shape": "M0,-1L0.2245,-0.309L0.951,-0.309L0.363,0.118L0.588,0.809L0,0.382L-0.588,0.809L-0.363,0.118L-0.951,-0.309L-0.2245,-0.309Z", "size": 866, "filled": true, "opacity": 1},
         "encoding": {"x": {"field": "t", "type": "quantitative", "scale": {"domain": [0, 25], "nice": false, "zero": false}, "axis": null}, "y": {"field": "v", "type": "quantitative", "scale": {"domain": [0, 70], "nice": false, "zero": false}, "axis": null}, "color": {"field": "s", "type": "nominal", "legend": null}}},
        {"data": {"values": [{"u": 0, "w": 0}]}, "mark": {"type": "point", "opacity": 0},
         "encoding": {
           "x": {"field": "u", "type": "quantitative", "scale": {"domain": [0, 41.65], "nice": false, "zero": false}, "axis": {"orient": "top", "values": [0,10,20,30,40], "format": "d", "title": "strain (%)"}},
           "y": {"field": "w", "type": "quantitative", "scale": {"domain": [0, 70], "nice": false, "zero": false}, "axis": {"orient": "right", "values": [0,10,20,30,40,50,60,70], "labels": false, "title": null}}
         }},
        {"data": {"name": "ft"}, "transform": [{"filter": "datum.p == 'c' && datum.k == 'L'"}],
         "mark": {"type": "text", "align": "left", "baseline": "middle", "fontWeight": "bold", "fontSize": 26, "color": "black"},
         "encoding": {
           "x": {"field": "x", "type": "quantitative", "scale": {"domain": [0, 1], "nice": false, "zero": false}, "axis": null},
           "y": {"field": "y", "type": "quantitative", "scale": {"domain": [0, 1], "nice": false, "zero": false}, "axis": null},
           "text": {"field": "t"}
         }}
      ],
      "resolve": {"scale": {"x": "independent", "y": "independent"}}
    },
    {
      "width": 541, "height": 405,
      "layer": [
        {"data": {"name": "D"}, "mark": {"type": "line", "strokeWidth": 4, "clip": false, "strokeCap": "butt", "strokeJoin": "round"},
         "encoding": {
           "x": {"field": "t", "type": "quantitative", "scale": {"domain": [0, 25], "nice": false, "zero": false}, "axis": {"values": [0,5,10,15,20,25], "format": "d", "title": "time (Myr)"}},
           "y": {"field": "v", "type": "quantitative", "scale": {"domain": [0.1, 1.0], "nice": false, "zero": false}, "axis": {"values": [0.2,0.4,0.6,0.8,1.0], "format": ".1f", "title": null}},
           "color": {"field": "s", "type": "nominal", "scale": {"domain": ["lb","db","pk","gr","or","rd","gy","dk"], "range": ["#56B4E9","#0072B2","#E48BBE","#4E8A21","#E69F00","#D55E00","#A9AF8F","#4D4D4D"]}, "legend": null},
           "strokeDash": {"field": "s", "type": "nominal", "scale": {"domain": ["lb","db","pk","gr","or","rd","gy","dk"], "range": [[15,6.5],[1,0],[1,0],[1,0],[15,6.5],[1,0],[15,6.5],[1,0]]}, "legend": null}
         }},
        {"data": {"name": "mk"}, "transform": [{"filter": "datum.p == 'd' && datum.k == 'tr' && (datum.s == 'lb' || datum.s == 'or')"}],
         "mark": {"type": "point", "shape": "circle", "size": 270, "filled": false, "fill": "white", "strokeWidth": 3, "opacity": 1},
         "encoding": {"x": {"field": "t", "type": "quantitative", "scale": {"domain": [0, 25], "nice": false, "zero": false}, "axis": null}, "y": {"field": "v", "type": "quantitative", "scale": {"domain": [0.1, 1.0], "nice": false, "zero": false}, "axis": null}, "color": {"field": "s", "type": "nominal", "legend": null}}},
        {"data": {"name": "mk"}, "transform": [{"filter": "datum.p == 'd' && datum.k == 'tr' && datum.s != 'lb' && datum.s != 'or'"}],
         "mark": {"type": "point", "shape": "circle", "size": 270, "filled": true, "opacity": 1},
         "encoding": {"x": {"field": "t", "type": "quantitative", "scale": {"domain": [0, 25], "nice": false, "zero": false}, "axis": null}, "y": {"field": "v", "type": "quantitative", "scale": {"domain": [0.1, 1.0], "nice": false, "zero": false}, "axis": null}, "color": {"field": "s", "type": "nominal", "legend": null}}},
        {"data": {"name": "mk"}, "transform": [{"filter": "datum.p == 'd' && datum.k == 'pb' && (datum.s == 'lb' || datum.s == 'or')"}],
         "mark": {"type": "point", "shape": "M0,-1L0.2245,-0.309L0.951,-0.309L0.363,0.118L0.588,0.809L0,0.382L-0.588,0.809L-0.363,0.118L-0.951,-0.309L-0.2245,-0.309Z", "size": 866, "filled": false, "fill": "white", "strokeWidth": 3, "opacity": 1},
         "encoding": {"x": {"field": "t", "type": "quantitative", "scale": {"domain": [0, 25], "nice": false, "zero": false}, "axis": null}, "y": {"field": "v", "type": "quantitative", "scale": {"domain": [0.1, 1.0], "nice": false, "zero": false}, "axis": null}, "color": {"field": "s", "type": "nominal", "legend": null}}},
        {"data": {"name": "mk"}, "transform": [{"filter": "datum.p == 'd' && datum.k == 'pb' && datum.s != 'lb' && datum.s != 'or'"}],
         "mark": {"type": "point", "shape": "M0,-1L0.2245,-0.309L0.951,-0.309L0.363,0.118L0.588,0.809L0,0.382L-0.588,0.809L-0.363,0.118L-0.951,-0.309L-0.2245,-0.309Z", "size": 866, "filled": true, "opacity": 1},
         "encoding": {"x": {"field": "t", "type": "quantitative", "scale": {"domain": [0, 25], "nice": false, "zero": false}, "axis": null}, "y": {"field": "v", "type": "quantitative", "scale": {"domain": [0.1, 1.0], "nice": false, "zero": false}, "axis": null}, "color": {"field": "s", "type": "nominal", "legend": null}}},
        {"data": {"values": [{"u": 0, "w": 0.5}]}, "mark": {"type": "point", "opacity": 0},
         "encoding": {
           "x": {"field": "u", "type": "quantitative", "scale": {"domain": [0, 41.65], "nice": false, "zero": false}, "axis": {"orient": "top", "values": [0,10,20,30,40], "format": "d", "title": "strain (%)"}},
           "y": {"field": "w", "type": "quantitative", "scale": {"domain": [0.1, 1.0], "nice": false, "zero": false}, "axis": {"orient": "right", "values": [0.2,0.4,0.6,0.8,1.0], "labels": false, "title": null}}
         }},
        {"data": {"name": "ft"}, "transform": [{"filter": "datum.p == 'd' && datum.k == 'L'"}],
         "mark": {"type": "text", "align": "left", "baseline": "middle", "fontWeight": "bold", "fontSize": 26, "color": "black"},
         "encoding": {
           "x": {"field": "x", "type": "quantitative", "scale": {"domain": [0, 1], "nice": false, "zero": false}, "axis": null},
           "y": {"field": "y", "type": "quantitative", "scale": {"domain": [0, 1], "nice": false, "zero": false}, "axis": null},
           "text": {"field": "t"}
         }},
        {"data": {"name": "ft"}, "transform": [{"filter": "datum.p == 'd' && datum.k == 'n'"}],
         "mark": {"type": "text", "angle": 270, "align": "left", "baseline": "alphabetic", "fontSize": 25, "color": "black"},
         "encoding": {
           "x": {"field": "x", "type": "quantitative", "scale": {"domain": [0, 1], "nice": false, "zero": false}, "axis": null},
           "y": {"field": "y", "type": "quantitative", "scale": {"domain": [0, 1], "nice": false, "zero": false}, "axis": null},
           "text": {"field": "t"}
         }},
        {"data": {"name": "ft"}, "transform": [{"filter": "datum.p == 'd' && datum.k == 'i'"}],
         "mark": {"type": "text", "angle": 270, "align": "left", "baseline": "alphabetic", "fontSize": 25, "fontStyle": "italic", "color": "black"},
         "encoding": {
           "x": {"field": "x", "type": "quantitative", "scale": {"domain": [0, 1], "nice": false, "zero": false}, "axis": null},
           "y": {"field": "y", "type": "quantitative", "scale": {"domain": [0, 1], "nice": false, "zero": false}, "axis": null},
           "text": {"field": "t"}
         }}
      ],
      "resolve": {"scale": {"x": "independent", "y": "independent"}}
    },
    {
      "width": 541, "height": 405,
      "layer": [
        {"data": {"name": "E"}, "mark": {"type": "line", "strokeWidth": 4, "clip": true, "strokeCap": "butt", "strokeJoin": "round"},
         "encoding": {
           "x": {"field": "t", "type": "quantitative", "scale": {"domain": [0, 25], "nice": false, "zero": false}, "axis": {"values": [0,5,10,15,20,25], "format": "d", "title": "time (Myr)"}},
           "y": {"field": "v", "type": "quantitative", "scale": {"type": "log", "domain": [1, 10000], "nice": false}, "axis": {"values": [1,10,100,1000,10000], "labelExpr": "datum.value < 5 ? '10⁰' : datum.value < 50 ? '10¹' : datum.value < 500 ? '10²' : datum.value < 5000 ? '10³' : '10⁴'", "title": null}},
           "color": {"field": "s", "type": "nominal", "scale": {"domain": ["lb","db","pk","gr","or","rd","gy","dk"], "range": ["#56B4E9","#0072B2","#E48BBE","#4E8A21","#E69F00","#D55E00","#A9AF8F","#4D4D4D"]}, "legend": null},
           "strokeDash": {"field": "s", "type": "nominal", "scale": {"domain": ["lb","db","pk","gr","or","rd","gy","dk"], "range": [[15,6.5],[1,0],[1,0],[1,0],[15,6.5],[1,0],[15,6.5],[1,0]]}, "legend": null}
         }},
        {"data": {"name": "mk"}, "transform": [{"filter": "datum.p == 'e' && datum.k == 'tr' && (datum.s == 'lb' || datum.s == 'or')"}],
         "mark": {"type": "point", "shape": "circle", "size": 270, "filled": false, "fill": "white", "strokeWidth": 3, "opacity": 1},
         "encoding": {"x": {"field": "t", "type": "quantitative", "scale": {"domain": [0, 25], "nice": false, "zero": false}, "axis": null}, "y": {"field": "v", "type": "quantitative", "scale": {"type": "log", "domain": [1, 10000], "nice": false}, "axis": null}, "color": {"field": "s", "type": "nominal", "legend": null}}},
        {"data": {"name": "mk"}, "transform": [{"filter": "datum.p == 'e' && datum.k == 'tr' && datum.s != 'lb' && datum.s != 'or'"}],
         "mark": {"type": "point", "shape": "circle", "size": 270, "filled": true, "opacity": 1},
         "encoding": {"x": {"field": "t", "type": "quantitative", "scale": {"domain": [0, 25], "nice": false, "zero": false}, "axis": null}, "y": {"field": "v", "type": "quantitative", "scale": {"type": "log", "domain": [1, 10000], "nice": false}, "axis": null}, "color": {"field": "s", "type": "nominal", "legend": null}}},
        {"data": {"name": "mk"}, "transform": [{"filter": "datum.p == 'e' && datum.k == 'pb' && (datum.s == 'lb' || datum.s == 'or')"}],
         "mark": {"type": "point", "shape": "M0,-1L0.2245,-0.309L0.951,-0.309L0.363,0.118L0.588,0.809L0,0.382L-0.588,0.809L-0.363,0.118L-0.951,-0.309L-0.2245,-0.309Z", "size": 866, "filled": false, "fill": "white", "strokeWidth": 3, "opacity": 1},
         "encoding": {"x": {"field": "t", "type": "quantitative", "scale": {"domain": [0, 25], "nice": false, "zero": false}, "axis": null}, "y": {"field": "v", "type": "quantitative", "scale": {"type": "log", "domain": [1, 10000], "nice": false}, "axis": null}, "color": {"field": "s", "type": "nominal", "legend": null}}},
        {"data": {"name": "mk"}, "transform": [{"filter": "datum.p == 'e' && datum.k == 'pb' && datum.s != 'lb' && datum.s != 'or'"}],
         "mark": {"type": "point", "shape": "M0,-1L0.2245,-0.309L0.951,-0.309L0.363,0.118L0.588,0.809L0,0.382L-0.588,0.809L-0.363,0.118L-0.951,-0.309L-0.2245,-0.309Z", "size": 866, "filled": true, "opacity": 1},
         "encoding": {"x": {"field": "t", "type": "quantitative", "scale": {"domain": [0, 25], "nice": false, "zero": false}, "axis": null}, "y": {"field": "v", "type": "quantitative", "scale": {"type": "log", "domain": [1, 10000], "nice": false}, "axis": null}, "color": {"field": "s", "type": "nominal", "legend": null}}},
        {"data": {"values": [{"u": 0, "w": 10}]}, "mark": {"type": "point", "opacity": 0},
         "encoding": {
           "x": {"field": "u", "type": "quantitative", "scale": {"domain": [0, 41.65], "nice": false, "zero": false}, "axis": {"orient": "top", "values": [0,10,20,30,40], "format": "d", "title": "strain (%)"}},
           "y": {"field": "w", "type": "quantitative", "scale": {"type": "log", "domain": [1, 10000], "nice": false}, "axis": {"orient": "right", "values": [1,10,100,1000,10000], "labels": false, "title": null}}
         }},
        {"data": {"values": [{"u": 0, "w": 10}]}, "mark": {"type": "point", "opacity": 0},
         "encoding": {
           "x": {"field": "u", "type": "quantitative", "scale": {"domain": [0, 41.65], "nice": false, "zero": false}, "axis": null},
           "y": {"field": "w", "type": "quantitative", "scale": {"type": "log", "domain": [1, 10000], "nice": false}, "axis": {"orient": "left", "values": [2,3,4,5,6,7,8,9,20,30,40,50,60,70,80,90,200,300,400,500,600,700,800,900,2000,3000,4000,5000,6000,7000,8000,9000], "labels": false, "title": null, "domain": false, "tickSize": 5, "tickWidth": 1.5}}
         }},
        {"data": {"values": [{"u": 0, "w": 10}]}, "mark": {"type": "point", "opacity": 0},
         "encoding": {
           "x": {"field": "u", "type": "quantitative", "scale": {"domain": [0, 41.65], "nice": false, "zero": false}, "axis": null},
           "y": {"field": "w", "type": "quantitative", "scale": {"type": "log", "domain": [1, 10000], "nice": false}, "axis": {"orient": "right", "values": [2,3,4,5,6,7,8,9,20,30,40,50,60,70,80,90,200,300,400,500,600,700,800,900,2000,3000,4000,5000,6000,7000,8000,9000], "labels": false, "title": null, "domain": false, "tickSize": 5, "tickWidth": 1.5}}
         }},
        {"data": {"name": "ft"}, "transform": [{"filter": "datum.p == 'e' && datum.k == 'L'"}],
         "mark": {"type": "text", "align": "left", "baseline": "middle", "fontWeight": "bold", "fontSize": 26, "color": "black"},
         "encoding": {
           "x": {"field": "x", "type": "quantitative", "scale": {"domain": [0, 1], "nice": false, "zero": false}, "axis": null},
           "y": {"field": "y", "type": "quantitative", "scale": {"domain": [0, 1], "nice": false, "zero": false}, "axis": null},
           "text": {"field": "t"}
         }},
        {"data": {"name": "ft"}, "transform": [{"filter": "datum.p == 'e' && datum.k == 'n'"}],
         "mark": {"type": "text", "angle": 270, "align": "left", "baseline": "alphabetic", "fontSize": 25, "color": "black"},
         "encoding": {
           "x": {"field": "x", "type": "quantitative", "scale": {"domain": [0, 1], "nice": false, "zero": false}, "axis": null},
           "y": {"field": "y", "type": "quantitative", "scale": {"domain": [0, 1], "nice": false, "zero": false}, "axis": null},
           "text": {"field": "t"}
         }},
        {"data": {"name": "ft"}, "transform": [{"filter": "datum.p == 'e' && datum.k == 'i'"}],
         "mark": {"type": "text", "angle": 270, "align": "left", "baseline": "alphabetic", "fontSize": 25, "fontStyle": "italic", "color": "black"},
         "encoding": {
           "x": {"field": "x", "type": "quantitative", "scale": {"domain": [0, 1], "nice": false, "zero": false}, "axis": null},
           "y": {"field": "y", "type": "quantitative", "scale": {"domain": [0, 1], "nice": false, "zero": false}, "axis": null},
           "text": {"field": "t"}
         }},
        {"data": {"name": "ft"}, "transform": [{"filter": "datum.p == 'e' && datum.k == 'si'"}],
         "mark": {"type": "text", "angle": 270, "align": "left", "baseline": "alphabetic", "fontSize": 17.5, "fontStyle": "italic", "color": "black"},
         "encoding": {
           "x": {"field": "x", "type": "quantitative", "scale": {"domain": [0, 1], "nice": false, "zero": false}, "axis": null},
           "y": {"field": "y", "type": "quantitative", "scale": {"domain": [0, 1], "nice": false, "zero": false}, "axis": null},
           "text": {"field": "t"}
         }}
      ],
      "resolve": {"scale": {"x": "independent", "y": "independent"}}
    },
    {
      "width": 541, "height": 405,
      "layer": [
        {"data": {"name": "F"}, "mark": {"type": "line", "strokeWidth": 4, "clip": true, "strokeCap": "butt", "strokeJoin": "round"},
         "encoding": {
           "x": {"field": "t", "type": "quantitative", "scale": {"domain": [0, 25], "nice": false, "zero": false}, "axis": {"values": [0,5,10,15,20,25], "format": "d", "title": "time (Myr)"}},
           "y": {"field": "v", "type": "quantitative", "scale": {"type": "log", "domain": [1e-16, 5.05e-13], "nice": false}, "axis": {"values": [1e-16,1e-15,1e-14,1e-13], "labelExpr": "datum.value < 5e-16 ? '10⁻¹⁶' : datum.value < 5e-15 ? '10⁻¹⁵' : datum.value < 5e-14 ? '10⁻¹⁴' : '10⁻¹³'", "title": null}},
           "color": {"field": "s", "type": "nominal", "scale": {"domain": ["lb","db","pk","gr","or","rd","gy","dk"], "range": ["#56B4E9","#0072B2","#E48BBE","#4E8A21","#E69F00","#D55E00","#A9AF8F","#4D4D4D"]}, "legend": null},
           "strokeDash": {"field": "s", "type": "nominal", "scale": {"domain": ["lb","db","pk","gr","or","rd","gy","dk"], "range": [[15,6.5],[1,0],[1,0],[1,0],[15,6.5],[1,0],[15,6.5],[1,0]]}, "legend": null}
         }},
        {"data": {"name": "mk"}, "transform": [{"filter": "datum.p == 'f' && datum.k == 'tr' && (datum.s == 'lb' || datum.s == 'or')"}],
         "mark": {"type": "point", "shape": "circle", "size": 270, "filled": false, "fill": "white", "strokeWidth": 3, "opacity": 1},
         "encoding": {"x": {"field": "t", "type": "quantitative", "scale": {"domain": [0, 25], "nice": false, "zero": false}, "axis": null}, "y": {"field": "v", "type": "quantitative", "scale": {"type": "log", "domain": [1e-16, 5.05e-13], "nice": false}, "axis": null}, "color": {"field": "s", "type": "nominal", "legend": null}}},
        {"data": {"name": "mk"}, "transform": [{"filter": "datum.p == 'f' && datum.k == 'tr' && datum.s != 'lb' && datum.s != 'or'"}],
         "mark": {"type": "point", "shape": "circle", "size": 270, "filled": true, "opacity": 1},
         "encoding": {"x": {"field": "t", "type": "quantitative", "scale": {"domain": [0, 25], "nice": false, "zero": false}, "axis": null}, "y": {"field": "v", "type": "quantitative", "scale": {"type": "log", "domain": [1e-16, 5.05e-13], "nice": false}, "axis": null}, "color": {"field": "s", "type": "nominal", "legend": null}}},
        {"data": {"name": "mk"}, "transform": [{"filter": "datum.p == 'f' && datum.k == 'pb' && (datum.s == 'lb' || datum.s == 'or')"}],
         "mark": {"type": "point", "shape": "M0,-1L0.2245,-0.309L0.951,-0.309L0.363,0.118L0.588,0.809L0,0.382L-0.588,0.809L-0.363,0.118L-0.951,-0.309L-0.2245,-0.309Z", "size": 866, "filled": false, "fill": "white", "strokeWidth": 3, "opacity": 1},
         "encoding": {"x": {"field": "t", "type": "quantitative", "scale": {"domain": [0, 25], "nice": false, "zero": false}, "axis": null}, "y": {"field": "v", "type": "quantitative", "scale": {"type": "log", "domain": [1e-16, 5.05e-13], "nice": false}, "axis": null}, "color": {"field": "s", "type": "nominal", "legend": null}}},
        {"data": {"name": "mk"}, "transform": [{"filter": "datum.p == 'f' && datum.k == 'pb' && datum.s != 'lb' && datum.s != 'or'"}],
         "mark": {"type": "point", "shape": "M0,-1L0.2245,-0.309L0.951,-0.309L0.363,0.118L0.588,0.809L0,0.382L-0.588,0.809L-0.363,0.118L-0.951,-0.309L-0.2245,-0.309Z", "size": 866, "filled": true, "opacity": 1},
         "encoding": {"x": {"field": "t", "type": "quantitative", "scale": {"domain": [0, 25], "nice": false, "zero": false}, "axis": null}, "y": {"field": "v", "type": "quantitative", "scale": {"type": "log", "domain": [1e-16, 5.05e-13], "nice": false}, "axis": null}, "color": {"field": "s", "type": "nominal", "legend": null}}},
        {"data": {"values": [{"u": 0, "w": 1e-15}]}, "mark": {"type": "point", "opacity": 0},
         "encoding": {
           "x": {"field": "u", "type": "quantitative", "scale": {"domain": [0, 41.65], "nice": false, "zero": false}, "axis": {"orient": "top", "values": [0,10,20,30,40], "format": "d", "title": "strain (%)"}},
           "y": {"field": "w", "type": "quantitative", "scale": {"type": "log", "domain": [1e-16, 5.05e-13], "nice": false}, "axis": {"orient": "right", "values": [1e-16,1e-15,1e-14,1e-13], "labels": false, "title": null}}
         }},
        {"data": {"values": [{"u": 0, "w": 1e-15}]}, "mark": {"type": "point", "opacity": 0},
         "encoding": {
           "x": {"field": "u", "type": "quantitative", "scale": {"domain": [0, 41.65], "nice": false, "zero": false}, "axis": null},
           "y": {"field": "w", "type": "quantitative", "scale": {"type": "log", "domain": [1e-16, 5.05e-13], "nice": false}, "axis": {"orient": "left", "values": [2e-16,3e-16,4e-16,5e-16,6e-16,7e-16,8e-16,9e-16,2e-15,3e-15,4e-15,5e-15,6e-15,7e-15,8e-15,9e-15,2e-14,3e-14,4e-14,5e-14,6e-14,7e-14,8e-14,9e-14,2e-13,3e-13,4e-13,5e-13], "labels": false, "title": null, "domain": false, "tickSize": 5, "tickWidth": 1.5}}
         }},
        {"data": {"values": [{"u": 0, "w": 1e-15}]}, "mark": {"type": "point", "opacity": 0},
         "encoding": {
           "x": {"field": "u", "type": "quantitative", "scale": {"domain": [0, 41.65], "nice": false, "zero": false}, "axis": null},
           "y": {"field": "w", "type": "quantitative", "scale": {"type": "log", "domain": [1e-16, 5.05e-13], "nice": false}, "axis": {"orient": "right", "values": [2e-16,3e-16,4e-16,5e-16,6e-16,7e-16,8e-16,9e-16,2e-15,3e-15,4e-15,5e-15,6e-15,7e-15,8e-15,9e-15,2e-14,3e-14,4e-14,5e-14,6e-14,7e-14,8e-14,9e-14,2e-13,3e-13,4e-13,5e-13], "labels": false, "title": null, "domain": false, "tickSize": 5, "tickWidth": 1.5}}
         }},
        {"data": {"name": "ft"}, "transform": [{"filter": "datum.p == 'f' && datum.k == 'L'"}],
         "mark": {"type": "text", "align": "left", "baseline": "middle", "fontWeight": "bold", "fontSize": 26, "color": "black"},
         "encoding": {
           "x": {"field": "x", "type": "quantitative", "scale": {"domain": [0, 1], "nice": false, "zero": false}, "axis": null},
           "y": {"field": "y", "type": "quantitative", "scale": {"domain": [0, 1], "nice": false, "zero": false}, "axis": null},
           "text": {"field": "t"}
         }},
        {"data": {"name": "ft"}, "transform": [{"filter": "datum.p == 'f' && datum.k == 'n'"}],
         "mark": {"type": "text", "angle": 270, "align": "left", "baseline": "alphabetic", "fontSize": 25, "color": "black"},
         "encoding": {
           "x": {"field": "x", "type": "quantitative", "scale": {"domain": [0, 1], "nice": false, "zero": false}, "axis": null},
           "y": {"field": "y", "type": "quantitative", "scale": {"domain": [0, 1], "nice": false, "zero": false}, "axis": null},
           "text": {"field": "t"}
         }},
        {"data": {"name": "ft"}, "transform": [{"filter": "datum.p == 'f' && datum.k == 'i'"}],
         "mark": {"type": "text", "angle": 270, "align": "left", "baseline": "alphabetic", "fontSize": 25, "fontStyle": "italic", "color": "black"},
         "encoding": {
           "x": {"field": "x", "type": "quantitative", "scale": {"domain": [0, 1], "nice": false, "zero": false}, "axis": null},
           "y": {"field": "y", "type": "quantitative", "scale": {"domain": [0, 1], "nice": false, "zero": false}, "axis": null},
           "text": {"field": "t"}
         }},
        {"data": {"name": "ft"}, "transform": [{"filter": "datum.p == 'f' && datum.k == 'si'"}],
         "mark": {"type": "text", "angle": 270, "align": "left", "baseline": "alphabetic", "fontSize": 17.5, "fontStyle": "italic", "color": "black"},
         "encoding": {
           "x": {"field": "x", "type": "quantitative", "scale": {"domain": [0, 1], "nice": false, "zero": false}, "axis": null},
           "y": {"field": "y", "type": "quantitative", "scale": {"domain": [0, 1], "nice": false, "zero": false}, "axis": null},
           "text": {"field": "t"}
         }},
        {"data": {"name": "ft"}, "transform": [{"filter": "datum.p == 'f' && datum.k == 'sn'"}],
         "mark": {"type": "text", "angle": 270, "align": "left", "baseline": "alphabetic", "fontSize": 17.5, "color": "black"},
         "encoding": {
           "x": {"field": "x", "type": "quantitative", "scale": {"domain": [0, 1], "nice": false, "zero": false}, "axis": null},
           "y": {"field": "y", "type": "quantitative", "scale": {"domain": [0, 1], "nice": false, "zero": false}, "axis": null},
           "text": {"field": "t"}
         }}
      ],
      "resolve": {"scale": {"x": "independent", "y": "independent"}}
    }
  ]
}
